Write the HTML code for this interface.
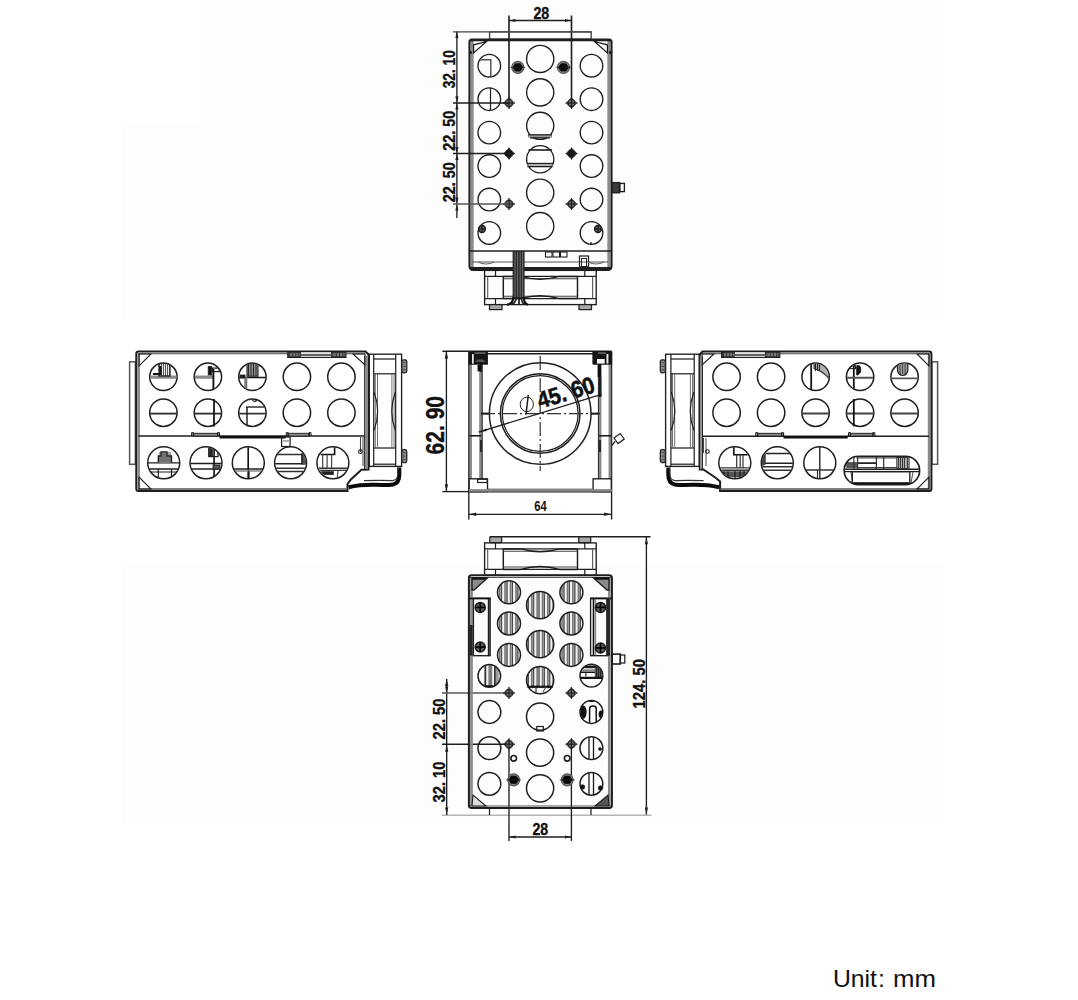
<!DOCTYPE html>
<html><head><meta charset="utf-8"><style>
html,body{margin:0;padding:0;background:#fff;}
body{width:1078px;height:1000px;overflow:hidden;position:relative;}
svg{position:absolute;left:0;top:0;}
</style></head><body>
<svg width="1078" height="1000" viewBox="0 0 1078 1000">
<rect x="200" y="0" width="744" height="122" fill="#fdfdfd"/>
<rect x="122" y="122" width="822" height="198" fill="#fdfdfd"/>
<rect x="122" y="566" width="822" height="258" fill="#fdfdfd"/>
<line x1="509" y1="15.5" x2="509" y2="103" stroke="#1e1e1e" stroke-width="1.62" />
<line x1="571.5" y1="15.5" x2="571.5" y2="103" stroke="#1e1e1e" stroke-width="1.62" />
<line x1="509" y1="20.5" x2="571.5" y2="20.5" stroke="#1e1e1e" stroke-width="1.35" />
<path d="M509.50,20.50 L515.50,18.90 L515.50,22.10 Z" fill="#1e1e1e"/>
<path d="M571.00,20.50 L565.00,22.10 L565.00,18.90 Z" fill="#1e1e1e"/>
<text transform="translate(541.3,18.9) rotate(0) scale(0.86,1)" font-family="Liberation Sans" font-size="16.5" font-weight="bold" text-anchor="middle" fill="#111" stroke="#111" stroke-width="0.35">28</text>
<line x1="453" y1="31.9" x2="591.5" y2="31.9" stroke="#444" stroke-width="1.42" />
<rect x="489.6" y="31.9" width="101.6" height="7.3" stroke="#4a4a4a" stroke-width="1.42" fill="none" />
<path d="M469.5,42 L469.5,266 Q469.5,270 473.5,270 L607.5,270 Q611.5,270 611.5,266 L611.5,42 Q611.5,39.5 609,39.5 L472,39.5 Q469.5,39.5 469.5,42 Z" stroke="#1e1e1e" stroke-width="2.16" fill="none" />
<line x1="472.3" y1="41" x2="472.3" y2="268" stroke="#8a8a8a" stroke-width="2.70" />
<line x1="608.7" y1="41" x2="608.7" y2="268" stroke="#8a8a8a" stroke-width="2.70" />
<line x1="470" y1="40.6" x2="611" y2="40.6" stroke="#1e1e1e" stroke-width="1.35" />
<path d="M473.6,53 L473.6,44.8 L481.5,42.8 L487.4,40.8 Z" stroke="#1e1e1e" stroke-width="1.22" fill="#fff" />
<path d="M607.4,53 L607.4,44.8 L599.5,42.8 L593.6,40.8 Z" stroke="#1e1e1e" stroke-width="1.22" fill="#fff" />
<circle cx="470.6" cy="52.5" r="1.2" stroke="#1e1e1e" stroke-width="0.68" fill="#111" />
<circle cx="610.4" cy="52.5" r="1.2" stroke="#1e1e1e" stroke-width="0.68" fill="#111" />
<line x1="469.5" y1="251" x2="611.5" y2="251" stroke="#1e1e1e" stroke-width="1.62" />
<line x1="472" y1="262" x2="608" y2="262" stroke="#555" stroke-width="1.08" />
<line x1="470" y1="268" x2="611" y2="268" stroke="#1e1e1e" stroke-width="1.89" />
<circle cx="489.3" cy="65.7" r="11.3" stroke="#1e1e1e" stroke-width="1.35" fill="none" />
<circle cx="591.5" cy="65.7" r="11.3" stroke="#1e1e1e" stroke-width="1.35" fill="none" />
<circle cx="540.2" cy="58.9" r="13.6" stroke="#1e1e1e" stroke-width="1.35" fill="none" />
<circle cx="489.3" cy="99.15" r="11.3" stroke="#1e1e1e" stroke-width="1.35" fill="none" />
<circle cx="591.5" cy="99.15" r="11.3" stroke="#1e1e1e" stroke-width="1.35" fill="none" />
<circle cx="540.2" cy="92.35" r="13.6" stroke="#1e1e1e" stroke-width="1.35" fill="none" />
<circle cx="489.3" cy="132.60000000000002" r="11.3" stroke="#1e1e1e" stroke-width="1.35" fill="none" />
<circle cx="591.5" cy="132.60000000000002" r="11.3" stroke="#1e1e1e" stroke-width="1.35" fill="none" />
<circle cx="540.2" cy="125.80000000000001" r="13.6" stroke="#1e1e1e" stroke-width="1.35" fill="none" />
<circle cx="489.3" cy="166.05" r="11.3" stroke="#1e1e1e" stroke-width="1.35" fill="none" />
<circle cx="591.5" cy="166.05" r="11.3" stroke="#1e1e1e" stroke-width="1.35" fill="none" />
<circle cx="540.2" cy="159.25" r="13.6" stroke="#1e1e1e" stroke-width="1.35" fill="none" />
<circle cx="489.3" cy="199.5" r="11.3" stroke="#1e1e1e" stroke-width="1.35" fill="none" />
<circle cx="591.5" cy="199.5" r="11.3" stroke="#1e1e1e" stroke-width="1.35" fill="none" />
<circle cx="540.2" cy="192.70000000000002" r="13.6" stroke="#1e1e1e" stroke-width="1.35" fill="none" />
<circle cx="489.3" cy="232.95" r="11.3" stroke="#1e1e1e" stroke-width="1.35" fill="none" />
<circle cx="591.5" cy="232.95" r="11.3" stroke="#1e1e1e" stroke-width="1.35" fill="none" />
<circle cx="540.2" cy="226.15" r="13.6" stroke="#1e1e1e" stroke-width="1.35" fill="none" />
<path d="M479.3,59.8 L490.8,59.8 L490.8,76.8" stroke="#555" stroke-width="1.49" fill="none" />
<line x1="490.5" y1="88" x2="490.5" y2="110" stroke="#1e1e1e" stroke-width="1.22" />
<line x1="528" y1="136.2" x2="552" y2="136.2" stroke="#999" stroke-width="2.97" />
<line x1="528" y1="134.8" x2="552" y2="134.8" stroke="#1e1e1e" stroke-width="1.22" />
<line x1="530" y1="137.9" x2="550" y2="137.9" stroke="#1e1e1e" stroke-width="1.35" />
<line x1="528.5" y1="150" x2="552" y2="150" stroke="#1e1e1e" stroke-width="1.62" />
<line x1="527" y1="163.5" x2="553" y2="163.5" stroke="#1e1e1e" stroke-width="1.35" />
<line x1="527" y1="165" x2="553" y2="165" stroke="#999" stroke-width="1.35" />
<line x1="527.5" y1="166.6" x2="552.5" y2="166.6" stroke="#1e1e1e" stroke-width="1.35" />
<circle cx="482" cy="229" r="3.4" stroke="#1e1e1e" stroke-width="1.49" fill="#666" />
<line x1="478.6" y1="229" x2="485.4" y2="229" stroke="#111" stroke-width="1.08" />
<line x1="482" y1="225.6" x2="482" y2="232.4" stroke="#111" stroke-width="1.08" />
<circle cx="598" cy="229" r="3.4" stroke="#1e1e1e" stroke-width="1.49" fill="#666" />
<line x1="594.6" y1="229" x2="601.4" y2="229" stroke="#111" stroke-width="1.08" />
<line x1="598" y1="225.6" x2="598" y2="232.4" stroke="#111" stroke-width="1.08" />
<line x1="591" y1="242" x2="591" y2="245" stroke="#1e1e1e" stroke-width="1.35" />
<circle cx="517.8" cy="67.4" r="6.0" stroke="#555" stroke-width="1.22" fill="#8a8a8a" />
<polygon points="522.80,67.40 520.30,71.12 515.30,71.12 512.80,67.40 515.30,63.68 520.30,63.68" fill="#080808" stroke="#111" stroke-width="0.8"/>
<line x1="510.29999999999995" y1="67.4" x2="525.3" y2="67.4" stroke="#222" stroke-width="0.68" />
<circle cx="563.5" cy="67.4" r="6.0" stroke="#555" stroke-width="1.22" fill="#8a8a8a" />
<polygon points="568.50,67.40 566.00,71.12 561.00,71.12 558.50,67.40 561.00,63.68 566.00,63.68" fill="#080808" stroke="#111" stroke-width="0.8"/>
<line x1="556.0" y1="67.4" x2="571.0" y2="67.4" stroke="#222" stroke-width="0.68" />
<circle cx="509" cy="103" r="3.6" stroke="#1e1e1e" stroke-width="1.35" fill="#6a6a6a" />
<path d="M503.5,103 L509,97.5 L514.5,103 L509,108.5 Z" stroke="#555" stroke-width="0.81" fill="none" />
<line x1="509" y1="97" x2="509" y2="109" stroke="#1e1e1e" stroke-width="1.08" />
<line x1="503" y1="103" x2="515" y2="103" stroke="#1e1e1e" stroke-width="1.08" />
<circle cx="571.5" cy="103" r="3.6" stroke="#1e1e1e" stroke-width="1.35" fill="#6a6a6a" />
<path d="M566.0,103 L571.5,97.5 L577.0,103 L571.5,108.5 Z" stroke="#555" stroke-width="0.81" fill="none" />
<line x1="571.5" y1="97" x2="571.5" y2="109" stroke="#1e1e1e" stroke-width="1.08" />
<line x1="565.5" y1="103" x2="577.5" y2="103" stroke="#1e1e1e" stroke-width="1.08" />
<path d="M504,153.5 L509,148.5 L514,153.5 L509,158.5 Z" stroke="#111" stroke-width="0.81" fill="#222" />
<circle cx="509" cy="153.5" r="3.6" stroke="#1e1e1e" stroke-width="1.35" fill="#111" />
<path d="M503.5,153.5 L509,148.0 L514.5,153.5 L509,159.0 Z" stroke="#555" stroke-width="0.81" fill="none" />
<line x1="509" y1="147.5" x2="509" y2="159.5" stroke="#1e1e1e" stroke-width="1.08" />
<line x1="503" y1="153.5" x2="515" y2="153.5" stroke="#1e1e1e" stroke-width="1.08" />
<path d="M566.5,153.5 L571.5,148.5 L576.5,153.5 L571.5,158.5 Z" stroke="#111" stroke-width="0.81" fill="#222" />
<circle cx="571.5" cy="153.5" r="3.6" stroke="#1e1e1e" stroke-width="1.35" fill="#111" />
<path d="M566.0,153.5 L571.5,148.0 L577.0,153.5 L571.5,159.0 Z" stroke="#555" stroke-width="0.81" fill="none" />
<line x1="571.5" y1="147.5" x2="571.5" y2="159.5" stroke="#1e1e1e" stroke-width="1.08" />
<line x1="565.5" y1="153.5" x2="577.5" y2="153.5" stroke="#1e1e1e" stroke-width="1.08" />
<circle cx="509" cy="204" r="3.6" stroke="#1e1e1e" stroke-width="1.35" fill="#6a6a6a" />
<path d="M503.5,204 L509,198.5 L514.5,204 L509,209.5 Z" stroke="#555" stroke-width="0.81" fill="none" />
<line x1="509" y1="198" x2="509" y2="210" stroke="#1e1e1e" stroke-width="1.08" />
<line x1="503" y1="204" x2="515" y2="204" stroke="#1e1e1e" stroke-width="1.08" />
<circle cx="571.5" cy="204" r="3.6" stroke="#1e1e1e" stroke-width="1.35" fill="#6a6a6a" />
<path d="M566.0,204 L571.5,198.5 L577.0,204 L571.5,209.5 Z" stroke="#555" stroke-width="0.81" fill="none" />
<line x1="571.5" y1="198" x2="571.5" y2="210" stroke="#1e1e1e" stroke-width="1.08" />
<line x1="565.5" y1="204" x2="577.5" y2="204" stroke="#1e1e1e" stroke-width="1.08" />
<line x1="456.9" y1="31.7" x2="456.9" y2="218" stroke="#1e1e1e" stroke-width="1.35" />
<line x1="453" y1="103" x2="509" y2="103" stroke="#1e1e1e" stroke-width="1.49" />
<line x1="453" y1="153.5" x2="509" y2="153.5" stroke="#1e1e1e" stroke-width="1.49" />
<line x1="453" y1="204" x2="509" y2="204" stroke="#555" stroke-width="1.49" />
<path d="M456.90,32.00 L458.50,38.00 L455.30,38.00 Z" fill="#1e1e1e"/>
<path d="M456.90,102.50 L455.30,96.50 L458.50,96.50 Z" fill="#1e1e1e"/>
<path d="M456.90,103.50 L458.50,109.50 L455.30,109.50 Z" fill="#1e1e1e"/>
<path d="M456.90,153.00 L455.30,147.00 L458.50,147.00 Z" fill="#1e1e1e"/>
<path d="M456.90,154.00 L458.50,160.00 L455.30,160.00 Z" fill="#1e1e1e"/>
<path d="M456.90,203.50 L455.30,197.50 L458.50,197.50 Z" fill="#1e1e1e"/>
<path d="M456.90,204.50 L458.50,210.50 L455.30,210.50 Z" fill="#1e1e1e"/>
<text transform="translate(454.6,69.2) rotate(-90) scale(0.86,1)" font-family="Liberation Sans" font-size="16" font-weight="bold" text-anchor="middle" fill="#111" stroke="#111" stroke-width="0.35">32. 10</text>
<text transform="translate(454.6,130.8) rotate(-90) scale(0.9,1)" font-family="Liberation Sans" font-size="16" font-weight="bold" text-anchor="middle" fill="#111" stroke="#111" stroke-width="0.35">22. 50</text>
<text transform="translate(454.6,182.3) rotate(-90) scale(0.9,1)" font-family="Liberation Sans" font-size="16" font-weight="bold" text-anchor="middle" fill="#111" stroke="#111" stroke-width="0.35">22. 50</text>
<rect x="612.2" y="182.6" width="7.4" height="10.2" stroke="#1e1e1e" stroke-width="1.35" fill="#3a3a3a" />
<rect x="619.8" y="183.4" width="4.6" height="8.2" stroke="#1e1e1e" stroke-width="1.35" fill="none" />
<rect x="545.5" y="252" width="6.5" height="5" stroke="#1e1e1e" stroke-width="1.08" fill="none" />
<rect x="553" y="252" width="6.5" height="5" stroke="#1e1e1e" stroke-width="1.08" fill="none" />
<rect x="560.5" y="252" width="6.5" height="5" stroke="#1e1e1e" stroke-width="1.08" fill="none" />
<rect x="579.5" y="256" width="9" height="11" stroke="#1e1e1e" stroke-width="1.22" fill="none" />
<rect x="581.5" y="258.5" width="5" height="8" stroke="#1e1e1e" stroke-width="0.94" fill="none" />
<path d="M478,262 Q486,266 494,262" stroke="#666" stroke-width="1.08" fill="none" />
<path d="M588,262 Q596,266 604,262" stroke="#666" stroke-width="1.08" fill="none" />
<rect x="484.6" y="270.4" width="111.60000000000002" height="34.200000000000045" stroke="#1e1e1e" stroke-width="1.35" fill="none" />
<line x1="484.6" y1="276.4" x2="596.2" y2="276.4" stroke="#1e1e1e" stroke-width="1.22" />
<line x1="484.6" y1="298.6" x2="596.2" y2="298.6" stroke="#1e1e1e" stroke-width="1.22" />
<line x1="495.5" y1="270.4" x2="495.5" y2="276.4" stroke="#1e1e1e" stroke-width="1.22" />
<line x1="495.5" y1="298.6" x2="495.5" y2="304.6" stroke="#1e1e1e" stroke-width="1.22" />
<line x1="584.8" y1="270.4" x2="584.8" y2="276.4" stroke="#1e1e1e" stroke-width="1.22" />
<line x1="584.8" y1="298.6" x2="584.8" y2="304.6" stroke="#1e1e1e" stroke-width="1.22" />
<line x1="487.7" y1="276.4" x2="487.7" y2="298.6" stroke="#555" stroke-width="1.08" />
<line x1="592.6" y1="276.4" x2="592.6" y2="298.6" stroke="#555" stroke-width="1.08" />
<line x1="503.3" y1="276.4" x2="503.3" y2="298.6" stroke="#1e1e1e" stroke-width="1.49" />
<line x1="577.5" y1="276.4" x2="577.5" y2="298.6" stroke="#1e1e1e" stroke-width="1.49" />
<line x1="503.3" y1="278.79999999999995" x2="577.5" y2="278.79999999999995" stroke="#444" stroke-width="1.08" />
<line x1="503.3" y1="296.20000000000005" x2="577.5" y2="296.20000000000005" stroke="#444" stroke-width="1.08" />
<path d="M503.3,276.4 L520.8,276.4 Q540,282.0 559.5,276.4 L577.5,276.4" stroke="#1e1e1e" stroke-width="1.49" fill="none" />
<path d="M503.3,298.6 L520.8,298.6 Q540,293.0 559.5,298.6 L577.5,298.6" stroke="#1e1e1e" stroke-width="1.49" fill="none" />
<rect x="512.6" y="251" width="12" height="47" fill="#2a2a2a"/>
<line x1="515.0" y1="252" x2="515.0" y2="297" stroke="#9a9a9a" stroke-width="0.61" />
<line x1="517.6" y1="252" x2="517.6" y2="297" stroke="#9a9a9a" stroke-width="0.61" />
<line x1="520.2" y1="252" x2="520.2" y2="297" stroke="#9a9a9a" stroke-width="0.61" />
<line x1="522.6" y1="252" x2="522.6" y2="297" stroke="#9a9a9a" stroke-width="0.61" />
<path d="M513.4,297 Q513.2,304 507,304.6" stroke="#111" stroke-width="2.16" fill="none" />
<path d="M516.2,297 Q516,303.5 511,304.2" stroke="#222" stroke-width="1.76" fill="none" />
<path d="M519,297 L519,304" stroke="#222" stroke-width="1.76" fill="none" />
<path d="M521.4,297 Q521.5,303.5 525,304.2" stroke="#222" stroke-width="1.76" fill="none" />
<path d="M523.9,297 Q524,304 528,304.6" stroke="#111" stroke-width="2.16" fill="none" />
<rect x="489.5" y="304.6" width="12.5" height="5" stroke="#1e1e1e" stroke-width="1.22" fill="#a8a8a8" />
<rect x="579" y="304.6" width="12.5" height="5" stroke="#1e1e1e" stroke-width="1.22" fill="#a8a8a8" />
<rect x="129.6" y="361.8" width="5.8" height="102.5" stroke="#555" stroke-width="1.49" fill="none" />
<path d="M347.5,491 L138.5,491 Q136.3,491 136.3,488.8 L136.3,353.8 Q136.3,351.6 138.5,351.6 L365.5,351.6 L368.5,354.5 L368.5,469.5 L361.4,469.7 L350.6,479.8 L347.5,484 Z" stroke="#1e1e1e" stroke-width="2.03" fill="none" />
<line x1="138.7" y1="353.5" x2="138.7" y2="489" stroke="#8a8a8a" stroke-width="2.43" />
<line x1="138" y1="353.7" x2="365" y2="353.7" stroke="#444" stroke-width="1.08" />
<line x1="138" y1="489" x2="347.5" y2="489" stroke="#555" stroke-width="1.35" />
<path d="M139,366 L139,354 L151,354 Z" stroke="#1e1e1e" stroke-width="1.08" fill="none" />
<path d="M139,477 L139,489 L151,489 Z" stroke="#1e1e1e" stroke-width="1.08" fill="none" />
<path d="M353,354 L365,354 L365,365 Z" stroke="#1e1e1e" stroke-width="1.08" fill="none" />
<line x1="364.8" y1="356" x2="364.8" y2="469" stroke="#1e1e1e" stroke-width="1.35" />
<line x1="366.6" y1="356" x2="366.6" y2="469" stroke="#8a8a8a" stroke-width="1.89" />
<rect x="287.8" y="351.6" width="58.099999999999966" height="5.8" stroke="#1e1e1e" stroke-width="1.22" fill="#fff" />
<rect x="288.6" y="352.4" width="12" height="4.4" stroke="#1e1e1e" stroke-width="0.81" fill="#777" />
<rect x="331.4" y="352.4" width="13.5" height="4.4" stroke="#1e1e1e" stroke-width="0.81" fill="#777" />
<line x1="300.8" y1="354.9" x2="331.4" y2="354.9" stroke="#666" stroke-width="2.16" />
<line x1="289.8" y1="352.4" x2="289.8" y2="356.8" stroke="#222" stroke-width="0.81" />
<line x1="332.9" y1="352.4" x2="332.9" y2="356.8" stroke="#222" stroke-width="0.81" />
<line x1="292.8" y1="352.4" x2="292.8" y2="356.8" stroke="#222" stroke-width="0.81" />
<line x1="336.2" y1="352.4" x2="336.2" y2="356.8" stroke="#222" stroke-width="0.81" />
<line x1="295.8" y1="352.4" x2="295.8" y2="356.8" stroke="#222" stroke-width="0.81" />
<line x1="339.5" y1="352.4" x2="339.5" y2="356.8" stroke="#222" stroke-width="0.81" />
<line x1="298.8" y1="352.4" x2="298.8" y2="356.8" stroke="#222" stroke-width="0.81" />
<line x1="342.79999999999995" y1="352.4" x2="342.79999999999995" y2="356.8" stroke="#222" stroke-width="0.81" />
<line x1="138.5" y1="436.1" x2="364.8" y2="436.1" stroke="#1e1e1e" stroke-width="1.49" />
<line x1="219.5" y1="437.2" x2="285.5" y2="437.2" stroke="#111" stroke-width="2.43" />
<rect x="193.1" y="433.3" width="24.900000000000006" height="2.8" stroke="#1e1e1e" stroke-width="0.94" fill="#8a8a8a" />
<path d="M191.6,436.1 L191.6,433 Q192.6,432 193.6,433 L193.6,436.1" stroke="#1e1e1e" stroke-width="1.08" fill="none" />
<path d="M217.5,436.1 L217.5,433 Q218.5,432 219.5,433 L219.5,436.1" stroke="#1e1e1e" stroke-width="1.08" fill="none" />
<rect x="287.8" y="433.3" width="21.69999999999999" height="2.8" stroke="#1e1e1e" stroke-width="0.94" fill="#8a8a8a" />
<path d="M286.3,436.1 L286.3,433 Q287.3,432 288.3,433 L288.3,436.1" stroke="#1e1e1e" stroke-width="1.08" fill="none" />
<path d="M309,436.1 L309,433 Q310,432 311,433 L311,436.1" stroke="#1e1e1e" stroke-width="1.08" fill="none" />
<rect x="281.6" y="437" width="8.5" height="9.5" stroke="#1e1e1e" stroke-width="1.22" fill="none" />
<line x1="283" y1="441" x2="289" y2="441" stroke="#555" stroke-width="0.94" />
<circle cx="163.4" cy="376.8" r="13.7" stroke="#1e1e1e" stroke-width="1.49" fill="none" />
<circle cx="163.4" cy="412.7" r="13.7" stroke="#1e1e1e" stroke-width="1.49" fill="none" />
<circle cx="163.7" cy="462.8" r="16" stroke="#1e1e1e" stroke-width="1.49" fill="none" />
<circle cx="207.9" cy="376.8" r="13.7" stroke="#1e1e1e" stroke-width="1.49" fill="none" />
<circle cx="207.9" cy="412.7" r="13.7" stroke="#1e1e1e" stroke-width="1.49" fill="none" />
<circle cx="206.0" cy="462.8" r="16" stroke="#1e1e1e" stroke-width="1.49" fill="none" />
<circle cx="252.4" cy="376.8" r="13.7" stroke="#1e1e1e" stroke-width="1.49" fill="none" />
<circle cx="252.4" cy="412.7" r="13.7" stroke="#1e1e1e" stroke-width="1.49" fill="none" />
<circle cx="248.29999999999998" cy="462.8" r="16" stroke="#1e1e1e" stroke-width="1.49" fill="none" />
<circle cx="296.9" cy="376.8" r="13.7" stroke="#1e1e1e" stroke-width="1.49" fill="none" />
<circle cx="296.9" cy="412.7" r="13.7" stroke="#1e1e1e" stroke-width="1.49" fill="none" />
<circle cx="290.59999999999997" cy="462.8" r="16" stroke="#1e1e1e" stroke-width="1.49" fill="none" />
<circle cx="341.4" cy="376.8" r="13.7" stroke="#1e1e1e" stroke-width="1.49" fill="none" />
<circle cx="341.4" cy="412.7" r="13.7" stroke="#1e1e1e" stroke-width="1.49" fill="none" />
<circle cx="332.9" cy="462.8" r="16" stroke="#1e1e1e" stroke-width="1.49" fill="none" />
<clipPath id="cg1"><circle cx="163.4" cy="376.8" r="13.2"/></clipPath>
<g clip-path="url(#cg1)">
<line x1="145" y1="377.2" x2="182" y2="377.2" stroke="#8a8a8a" stroke-width="3.24" />
<line x1="159.5" y1="363" x2="159.5" y2="376" stroke="#555" stroke-width="1.08" />
<line x1="161.5" y1="363" x2="161.5" y2="376" stroke="#555" stroke-width="1.08" />
<line x1="163.5" y1="363" x2="163.5" y2="376" stroke="#555" stroke-width="1.08" />
<line x1="165.5" y1="363" x2="165.5" y2="376" stroke="#555" stroke-width="1.08" />
<line x1="167.5" y1="363" x2="167.5" y2="376" stroke="#555" stroke-width="1.08" />
<line x1="169.5" y1="363" x2="169.5" y2="376" stroke="#555" stroke-width="1.08" />
<rect x="159" y="363.5" width="11" height="12.5" stroke="#1e1e1e" stroke-width="1.22" fill="none" />
<path d="M153,374 L160.5,374 L160.5,366" stroke="#111" stroke-width="2.16" fill="none" />
</g>
<clipPath id="cg2"><circle cx="207.9" cy="376.8" r="13.2"/></clipPath>
<g clip-path="url(#cg2)">
<line x1="190" y1="377.2" x2="213" y2="377.2" stroke="#8a8a8a" stroke-width="3.24" />
<line x1="213.4" y1="369" x2="213.4" y2="391" stroke="#111" stroke-width="1.89" />
<rect x="208.2" y="366.4" width="3.5" height="8.6" stroke="#1e1e1e" stroke-width="0.81" fill="#111" />
<rect x="212.3" y="368.1" width="7" height="3.5" stroke="#1e1e1e" stroke-width="1.22" fill="none" />
</g>
<clipPath id="cg3"><circle cx="252.4" cy="376.8" r="13.2"/></clipPath>
<g clip-path="url(#cg3)">
<line x1="238" y1="377.4" x2="267" y2="377.4" stroke="#111" stroke-width="1.49" />
<rect x="247" y="363.5" width="11" height="12.7" stroke="#1e1e1e" stroke-width="1.08" fill="#9a9a9a" />
<line x1="248.5" y1="363" x2="248.5" y2="376" stroke="#222" stroke-width="1.08" />
<line x1="251" y1="363" x2="251" y2="376" stroke="#222" stroke-width="1.08" />
<line x1="253.5" y1="363" x2="253.5" y2="376" stroke="#222" stroke-width="1.08" />
<line x1="256" y1="363" x2="256" y2="376" stroke="#222" stroke-width="1.08" />
<line x1="245.8" y1="377" x2="245.8" y2="391" stroke="#777" stroke-width="2.97" />
<rect x="240" y="375" width="5" height="3" stroke="#1e1e1e" stroke-width="0.81" fill="#222" />
</g>
<line x1="149.73" y1="413.6" x2="177.07" y2="413.6" stroke="#333" stroke-width="1.89" />
<line x1="194.23" y1="413.6" x2="221.57" y2="413.6" stroke="#333" stroke-width="1.89" />
<line x1="214" y1="399" x2="214" y2="426.4" stroke="#111" stroke-width="1.76" />
<clipPath id="cg4"><circle cx="252.4" cy="412.7" r="13.2"/></clipPath>
<g clip-path="url(#cg4)">
<line x1="238" y1="413.6" x2="267" y2="413.6" stroke="#333" stroke-width="1.76" />
<line x1="246" y1="407" x2="267" y2="407" stroke="#333" stroke-width="1.49" />
<line x1="247" y1="407" x2="247" y2="427" stroke="#222" stroke-width="1.49" />
<path d="M252,399.5 Q254.5,403 257,400" stroke="#1e1e1e" stroke-width="1.22" fill="none" />
</g>
<clipPath id="cg5"><circle cx="163.7" cy="462.8" r="15.5"/></clipPath>
<g clip-path="url(#cg5)">
<line x1="147" y1="462.8" x2="181" y2="462.8" stroke="#1e1e1e" stroke-width="1.35" />
<line x1="147" y1="469" x2="181" y2="469" stroke="#1e1e1e" stroke-width="1.49" />
<line x1="147" y1="472" x2="181" y2="472" stroke="#1e1e1e" stroke-width="1.22" />
<path d="M158.3,462.8 L158.3,456 L161,456 L161,451.9 L167,451.9 L167,456 L171.5,456 L171.5,462.8" stroke="#1e1e1e" stroke-width="1.35" fill="#aaa" />
<line x1="160" y1="452" x2="160" y2="462.5" stroke="#333" stroke-width="0.94" />
<line x1="162" y1="452" x2="162" y2="462.5" stroke="#333" stroke-width="0.94" />
<line x1="164" y1="452" x2="164" y2="462.5" stroke="#333" stroke-width="0.94" />
<line x1="166" y1="452" x2="166" y2="462.5" stroke="#333" stroke-width="0.94" />
<line x1="168" y1="452" x2="168" y2="462.5" stroke="#333" stroke-width="0.94" />
<line x1="170" y1="452" x2="170" y2="462.5" stroke="#333" stroke-width="0.94" />
<line x1="158.3" y1="469" x2="158.3" y2="480" stroke="#1e1e1e" stroke-width="1.22" />
<line x1="171.5" y1="469" x2="171.5" y2="480" stroke="#1e1e1e" stroke-width="1.22" />
</g>
<clipPath id="cg6"><circle cx="206" cy="462.8" r="15.5"/></clipPath>
<g clip-path="url(#cg6)">
<line x1="190" y1="463.5" x2="222" y2="463.5" stroke="#1e1e1e" stroke-width="1.49" />
<line x1="190" y1="469" x2="222" y2="469" stroke="#1e1e1e" stroke-width="1.49" />
<line x1="214.1" y1="448" x2="214.1" y2="479" stroke="#111" stroke-width="1.62" />
<rect x="208.7" y="448" width="9.3" height="8.6" stroke="#1e1e1e" stroke-width="1.22" fill="none" />
<rect x="209.5" y="449" width="3" height="7" stroke="#1e1e1e" stroke-width="0.68" fill="#222" />
<rect x="213" y="465" width="7" height="4" stroke="#1e1e1e" stroke-width="0.81" fill="#555" />
</g>
<clipPath id="cg7"><circle cx="248.3" cy="462.8" r="15.5"/></clipPath>
<g clip-path="url(#cg7)">
<line x1="248.2" y1="447" x2="248.2" y2="479" stroke="#111" stroke-width="1.62" />
<line x1="232" y1="469" x2="265" y2="469" stroke="#1e1e1e" stroke-width="1.49" />
<line x1="232" y1="471" x2="265" y2="471" stroke="#888" stroke-width="1.35" />
<line x1="249" y1="471" x2="249" y2="479" stroke="#1e1e1e" stroke-width="1.22" />
</g>
<clipPath id="cg8"><circle cx="290.6" cy="462.8" r="15.5"/></clipPath>
<g clip-path="url(#cg8)">
<line x1="274" y1="454.5" x2="307" y2="454.5" stroke="#333" stroke-width="1.49" />
<line x1="274" y1="463.7" x2="307" y2="463.7" stroke="#222" stroke-width="1.49" />
<line x1="274" y1="468.2" x2="307" y2="468.2" stroke="#333" stroke-width="1.49" />
<line x1="274" y1="471.5" x2="307" y2="471.5" stroke="#333" stroke-width="1.49" />
<rect x="301.9" y="453.4" width="4.5" height="11.1" fill="#555"/>
<line x1="301.9" y1="453.4" x2="301.9" y2="464.5" stroke="#111" stroke-width="1.35" />
</g>
<clipPath id="cg9"><circle cx="333.5" cy="462.8" r="15.5"/></clipPath>
<g clip-path="url(#cg9)">
<path d="M320.5,454.5 L334.6,454.5 L334.6,447" stroke="#111" stroke-width="1.62" fill="none" />
<line x1="322.7" y1="454.8" x2="322.7" y2="468.2" stroke="#444" stroke-width="1.22" />
<line x1="327.1" y1="454.8" x2="327.1" y2="468.2" stroke="#444" stroke-width="1.22" />
<line x1="331.6" y1="454.8" x2="331.6" y2="468.2" stroke="#444" stroke-width="1.22" />
<line x1="317" y1="468.2" x2="350" y2="468.2" stroke="#333" stroke-width="1.35" />
<line x1="317" y1="470.4" x2="350" y2="470.4" stroke="#333" stroke-width="1.35" />
<rect x="321.2" y="471.2" width="12.6" height="3.7" fill="#222"/>
<line x1="338" y1="471" x2="337" y2="480" stroke="#444" stroke-width="1.08" />
</g>
<rect x="369.3" y="354.2" width="32.30000000000001" height="112.19999999999999" stroke="#1e1e1e" stroke-width="1.35" fill="none" />
<line x1="373.7" y1="354.2" x2="373.7" y2="466.4" stroke="#1e1e1e" stroke-width="1.22" />
<line x1="395.70000000000005" y1="354.2" x2="395.70000000000005" y2="466.4" stroke="#1e1e1e" stroke-width="1.22" />
<line x1="373.7" y1="359" x2="395.70000000000005" y2="359" stroke="#1e1e1e" stroke-width="1.22" />
<line x1="373.7" y1="373.8" x2="395.70000000000005" y2="373.8" stroke="#1e1e1e" stroke-width="1.22" />
<line x1="373.7" y1="448" x2="395.70000000000005" y2="448" stroke="#1e1e1e" stroke-width="1.22" />
<line x1="373.7" y1="464.2" x2="395.70000000000005" y2="464.2" stroke="#1e1e1e" stroke-width="1.22" />
<line x1="375.3" y1="373.8" x2="375.3" y2="448" stroke="#666" stroke-width="0.94" />
<line x1="377.5" y1="373.8" x2="377.5" y2="448" stroke="#666" stroke-width="0.94" />
<line x1="391.90000000000003" y1="373.8" x2="391.90000000000003" y2="448" stroke="#666" stroke-width="0.94" />
<line x1="394.1" y1="373.8" x2="394.1" y2="448" stroke="#666" stroke-width="0.94" />
<path d="M374.0,392 Q381.3,411.2 374.0,430.4" stroke="#1e1e1e" stroke-width="1.22" fill="none" />
<path d="M395.40000000000003,392 Q388.1,411.2 395.40000000000003,430.4" stroke="#1e1e1e" stroke-width="1.22" fill="none" />
<path d="M374.0,373.8 L374.0,392" stroke="#444" stroke-width="1.08" fill="none" />
<rect x="401.8" y="359.8" width="5.0" height="13" stroke="#1e1e1e" stroke-width="1.22" fill="#8a8a8a" rx="1.8"/>
<line x1="403.0" y1="362.8" x2="405.6" y2="362.8" stroke="#333" stroke-width="0.81" />
<line x1="403.0" y1="366.3" x2="405.6" y2="366.3" stroke="#333" stroke-width="0.81" />
<line x1="403.0" y1="369.8" x2="405.6" y2="369.8" stroke="#333" stroke-width="0.81" />
<rect x="401.8" y="449.6" width="5.0" height="13" stroke="#1e1e1e" stroke-width="1.22" fill="#8a8a8a" rx="1.8"/>
<line x1="403.0" y1="452.6" x2="405.6" y2="452.6" stroke="#333" stroke-width="0.81" />
<line x1="403.0" y1="456.1" x2="405.6" y2="456.1" stroke="#333" stroke-width="0.81" />
<line x1="403.0" y1="459.6" x2="405.6" y2="459.6" stroke="#333" stroke-width="0.81" />
<path d="M348.5,487.2 Q360,484.6 375,484.8 Q388,485.2 393,484.4 Q399.2,483.2 399.3,475 L399.3,467.5" stroke="#0a0a0a" stroke-width="4.05" fill="none" />
<path d="M364,480.6 Q380,480.1 392.5,480.6 Q397.4,480.2 397.8,474 L397.8,467.5" stroke="#333" stroke-width="1.08" fill="none" />
<line x1="360.5" y1="437" x2="360.5" y2="452" stroke="#444" stroke-width="1.08" />
<line x1="363" y1="437" x2="363" y2="466" stroke="#555" stroke-width="1.08" />
<circle cx="360.4" cy="451.7" r="1.8" stroke="#1e1e1e" stroke-width="1.08" fill="none" />
<rect x="931.8" y="361.8" width="5.8" height="102.5" stroke="#555" stroke-width="1.49" fill="none" />
<path d="M720.1,491 L929.2,491 Q931.4,491 931.4,488.8 L931.4,353.8 Q931.4,351.6 929.2,351.6 L702.5,351.6 L699.8,354.5 L699.8,469.5 L703,469.2 L716,478 L720.1,481.4 Z" stroke="#1e1e1e" stroke-width="2.03" fill="none" />
<line x1="929" y1="353.5" x2="929" y2="489" stroke="#8a8a8a" stroke-width="2.43" />
<line x1="702" y1="353.7" x2="929.5" y2="353.7" stroke="#444" stroke-width="1.08" />
<line x1="720.1" y1="489" x2="929.5" y2="489" stroke="#555" stroke-width="1.35" />
<path d="M929,366 L929,354 L917,354 Z" stroke="#1e1e1e" stroke-width="1.08" fill="none" />
<path d="M929,477 L929,489 L917,489 Z" stroke="#1e1e1e" stroke-width="1.08" fill="none" />
<path d="M714,354 L702,354 L702,365 Z" stroke="#1e1e1e" stroke-width="1.08" fill="none" />
<line x1="702.3" y1="356" x2="702.3" y2="469" stroke="#1e1e1e" stroke-width="1.35" />
<line x1="700.8" y1="356" x2="700.8" y2="469" stroke="#8a8a8a" stroke-width="1.62" />
<rect x="721.6" y="351.6" width="58.19999999999993" height="5.8" stroke="#1e1e1e" stroke-width="1.22" fill="#fff" />
<rect x="722.4" y="352.4" width="12" height="4.4" stroke="#1e1e1e" stroke-width="0.81" fill="#777" />
<rect x="765.3" y="352.4" width="13.5" height="4.4" stroke="#1e1e1e" stroke-width="0.81" fill="#777" />
<line x1="734.6" y1="354.9" x2="765.3" y2="354.9" stroke="#666" stroke-width="2.16" />
<line x1="723.6" y1="352.4" x2="723.6" y2="356.8" stroke="#222" stroke-width="0.81" />
<line x1="766.8" y1="352.4" x2="766.8" y2="356.8" stroke="#222" stroke-width="0.81" />
<line x1="726.6" y1="352.4" x2="726.6" y2="356.8" stroke="#222" stroke-width="0.81" />
<line x1="770.0999999999999" y1="352.4" x2="770.0999999999999" y2="356.8" stroke="#222" stroke-width="0.81" />
<line x1="729.6" y1="352.4" x2="729.6" y2="356.8" stroke="#222" stroke-width="0.81" />
<line x1="773.4" y1="352.4" x2="773.4" y2="356.8" stroke="#222" stroke-width="0.81" />
<line x1="732.6" y1="352.4" x2="732.6" y2="356.8" stroke="#222" stroke-width="0.81" />
<line x1="776.6999999999999" y1="352.4" x2="776.6999999999999" y2="356.8" stroke="#222" stroke-width="0.81" />
<line x1="702.3" y1="436.2" x2="929" y2="436.2" stroke="#1e1e1e" stroke-width="1.49" />
<line x1="783.6" y1="437.3" x2="847.7" y2="437.3" stroke="#111" stroke-width="2.43" />
<rect x="757.2" y="433.3" width="24.899999999999977" height="2.8" stroke="#1e1e1e" stroke-width="0.94" fill="#8a8a8a" />
<path d="M755.7,436.1 L755.7,433 Q756.7,432 757.7,433 L757.7,436.1" stroke="#1e1e1e" stroke-width="1.08" fill="none" />
<path d="M781.6,436.1 L781.6,433 Q782.6,432 783.6,433 L783.6,436.1" stroke="#1e1e1e" stroke-width="1.08" fill="none" />
<rect x="850.0" y="433.3" width="23.299999999999955" height="2.8" stroke="#1e1e1e" stroke-width="0.94" fill="#8a8a8a" />
<path d="M848.5,436.1 L848.5,433 Q849.5,432 850.5,433 L850.5,436.1" stroke="#1e1e1e" stroke-width="1.08" fill="none" />
<path d="M872.8,436.1 L872.8,433 Q873.8,432 874.8,433 L874.8,436.1" stroke="#1e1e1e" stroke-width="1.08" fill="none" />
<circle cx="726.6" cy="376.8" r="13.7" stroke="#1e1e1e" stroke-width="1.49" fill="none" />
<circle cx="726.6" cy="412.7" r="13.7" stroke="#1e1e1e" stroke-width="1.49" fill="none" />
<circle cx="771.1" cy="376.8" r="13.7" stroke="#1e1e1e" stroke-width="1.49" fill="none" />
<circle cx="771.1" cy="412.7" r="13.7" stroke="#1e1e1e" stroke-width="1.49" fill="none" />
<circle cx="815.6" cy="376.8" r="13.7" stroke="#1e1e1e" stroke-width="1.49" fill="none" />
<circle cx="815.6" cy="412.7" r="13.7" stroke="#1e1e1e" stroke-width="1.49" fill="none" />
<circle cx="860.1" cy="376.8" r="13.7" stroke="#1e1e1e" stroke-width="1.49" fill="none" />
<circle cx="860.1" cy="412.7" r="13.7" stroke="#1e1e1e" stroke-width="1.49" fill="none" />
<circle cx="904.6" cy="376.8" r="13.7" stroke="#1e1e1e" stroke-width="1.49" fill="none" />
<circle cx="904.6" cy="412.7" r="13.7" stroke="#1e1e1e" stroke-width="1.49" fill="none" />
<circle cx="734.8" cy="462.8" r="16" stroke="#1e1e1e" stroke-width="1.49" fill="none" />
<circle cx="777.3" cy="462.8" r="16" stroke="#1e1e1e" stroke-width="1.49" fill="none" />
<circle cx="819.8" cy="462.8" r="16" stroke="#1e1e1e" stroke-width="1.49" fill="none" />
<clipPath id="cg10"><circle cx="815.5" cy="376.8" r="13.2"/></clipPath>
<g clip-path="url(#cg10)">
<line x1="811.2" y1="362" x2="811.2" y2="392" stroke="#111" stroke-width="1.76" />
<path d="M814.1,362 L814.1,368.6 Q821,370 828.5,377.8 L831,362 Z" stroke="#333" stroke-width="1.22" fill="#b0b0b0" />
<line x1="815.5" y1="362" x2="815.5" y2="371" stroke="#222" stroke-width="1.08" />
<line x1="817.5" y1="362" x2="817.5" y2="371" stroke="#222" stroke-width="1.08" />
<line x1="819.5" y1="362" x2="819.5" y2="371" stroke="#222" stroke-width="1.08" />
</g>
<clipPath id="cg11"><circle cx="860" cy="376.8" r="13.2"/></clipPath>
<g clip-path="url(#cg11)">
<line x1="853.8" y1="365.7" x2="853.8" y2="389" stroke="#111" stroke-width="1.76" />
<line x1="846" y1="377.8" x2="874" y2="377.8" stroke="#555" stroke-width="1.89" />
<rect x="848.6" y="365.7" width="6.9" height="2.9" stroke="#1e1e1e" stroke-width="1.08" fill="none" />
<path d="M856.7,365.7 L859.5,365.7 Q861,367 860.7,372 L858,375 L856.7,375 Z" stroke="#111" stroke-width="0.81" fill="#111" />
</g>
<clipPath id="cg12"><circle cx="904.7" cy="376.8" r="13.2"/></clipPath>
<g clip-path="url(#cg12)">
<line x1="890" y1="378.4" x2="920" y2="378.4" stroke="#555" stroke-width="1.89" />
<path d="M897.5,362.5 L897.5,371 Q899,375.5 902.6,375.5 Q906.4,375.5 907.8,371 L907.8,362.5 Z" stroke="#222" stroke-width="1.22" fill="#a0a0a0" />
<line x1="900" y1="363" x2="900" y2="374" stroke="#444" stroke-width="1.08" />
<line x1="902.6" y1="363" x2="902.6" y2="374" stroke="#444" stroke-width="1.08" />
<line x1="905.2" y1="363" x2="905.2" y2="374" stroke="#444" stroke-width="1.08" />
</g>
<line x1="801.92" y1="413.5" x2="829.28" y2="413.5" stroke="#444" stroke-width="2.03" />
<line x1="846.42" y1="413.5" x2="873.78" y2="413.5" stroke="#444" stroke-width="2.03" />
<line x1="853.8" y1="399" x2="853.8" y2="426.4" stroke="#111" stroke-width="1.76" />
<line x1="890.92" y1="413.5" x2="918.28" y2="413.5" stroke="#444" stroke-width="2.03" />
<clipPath id="cg13"><circle cx="734.8" cy="462.8" r="15.5"/></clipPath>
<g clip-path="url(#cg13)">
<line x1="718" y1="467.9" x2="752" y2="467.9" stroke="#333" stroke-width="1.35" />
<line x1="718" y1="470.2" x2="752" y2="470.2" stroke="#333" stroke-width="1.35" />
<path d="M733.8,446 L733.8,454.7 L747.6,454.7" stroke="#111" stroke-width="1.62" fill="none" />
<line x1="736.7" y1="454.7" x2="736.7" y2="468" stroke="#333" stroke-width="1.22" />
<line x1="740.2" y1="454.7" x2="740.2" y2="468" stroke="#333" stroke-width="1.22" />
<line x1="743" y1="454.7" x2="743" y2="468" stroke="#333" stroke-width="1.22" />
<rect x="720" y="471.3" width="30" height="6" fill="#555"/>
<line x1="724" y1="471.3" x2="724" y2="478" stroke="#111" stroke-width="1.08" />
<line x1="728" y1="471.3" x2="728" y2="478" stroke="#111" stroke-width="1.08" />
<line x1="735" y1="471.3" x2="735" y2="478" stroke="#111" stroke-width="1.08" />
<line x1="740" y1="471.3" x2="740" y2="478" stroke="#111" stroke-width="1.08" />
<line x1="744" y1="471.3" x2="744" y2="478" stroke="#111" stroke-width="1.08" />
</g>
<clipPath id="cg14"><circle cx="777.3" cy="462.8" r="15.5"/></clipPath>
<g clip-path="url(#cg14)">
<line x1="766" y1="453.5" x2="795" y2="453.5" stroke="#222" stroke-width="1.49" />
<line x1="760" y1="463.3" x2="795" y2="463.3" stroke="#222" stroke-width="1.62" />
<line x1="760" y1="466.7" x2="795" y2="466.7" stroke="#333" stroke-width="1.35" />
<line x1="760" y1="470.2" x2="795" y2="470.2" stroke="#333" stroke-width="1.35" />
<line x1="764.9" y1="453.5" x2="764.9" y2="463.3" stroke="#222" stroke-width="1.35" />
<path d="M761,452 L765.4,453.5 L765.4,465 L761,466 Z" fill="#444"/>
</g>
<line x1="819.8" y1="447" x2="819.8" y2="478" stroke="#1e1e1e" stroke-width="1.35" />
<line x1="805.51" y1="470" x2="834.09" y2="470" stroke="#1e1e1e" stroke-width="1.35" />
<line x1="817.5" y1="470" x2="817.5" y2="478" stroke="#1e1e1e" stroke-width="1.08" />
<clipPath id="ovc"><path d="M858.4,456.2 L905.4,456.2 A14.25,14.25 0 0 1 905.4,484.7 L858.4,484.7 A14.25,14.25 0 0 1 858.4,456.2 Z"/></clipPath><g clip-path="url(#ovc)">
<line x1="843" y1="469.2" x2="921" y2="469.2" stroke="#1e1e1e" stroke-width="1.35" />
<line x1="843" y1="471.6" x2="921" y2="471.6" stroke="#1e1e1e" stroke-width="1.35" />
<line x1="856.5" y1="457.8" x2="908" y2="457.8" stroke="#444" stroke-width="1.22" />
<line x1="845" y1="463.1" x2="876.4" y2="463.1" stroke="#222" stroke-width="1.76" />
<line x1="857" y1="467.6" x2="908" y2="467.6" stroke="#444" stroke-width="1.22" />
<rect x="846.2" y="463" width="11.4" height="5" fill="#555"/>
<line x1="853.9" y1="456" x2="853.9" y2="469" stroke="#333" stroke-width="1.22" />
<line x1="857.6" y1="456" x2="857.6" y2="469" stroke="#333" stroke-width="1.22" />
<line x1="876.4" y1="456" x2="876.4" y2="469" stroke="#333" stroke-width="1.22" />
<line x1="883.7" y1="456" x2="883.7" y2="469" stroke="#333" stroke-width="1.22" />
<line x1="909" y1="456" x2="909" y2="469" stroke="#333" stroke-width="1.22" />
<rect x="896.8" y="457.5" width="10.6" height="11" stroke="#1e1e1e" stroke-width="0.81" fill="#aaa" />
<line x1="898.5" y1="457.5" x2="898.5" y2="468.5" stroke="#333" stroke-width="0.94" />
<line x1="900.5" y1="457.5" x2="900.5" y2="468.5" stroke="#333" stroke-width="0.94" />
<line x1="902.5" y1="457.5" x2="902.5" y2="468.5" stroke="#333" stroke-width="0.94" />
<line x1="904.5" y1="457.5" x2="904.5" y2="468.5" stroke="#333" stroke-width="0.94" />
<line x1="851" y1="472" x2="852.5" y2="483" stroke="#555" stroke-width="1.08" />
<line x1="913" y1="472" x2="911" y2="483" stroke="#555" stroke-width="1.08" />
</g>
<path d="M858.4,456.2 L905.4,456.2 A14.25,14.25 0 0 1 905.4,484.7 L858.4,484.7 A14.25,14.25 0 0 1 858.4,456.2 Z" stroke="#1e1e1e" stroke-width="1.62" fill="none" />
<rect x="852.3" y="471.6" width="57.5" height="11.9" stroke="#1e1e1e" stroke-width="1.35" fill="none" />
<line x1="852.3" y1="483.2" x2="909.8" y2="483.2" stroke="#111" stroke-width="1.76" />
<rect x="665.6" y="354.2" width="33.69999999999993" height="112.19999999999999" stroke="#1e1e1e" stroke-width="1.35" fill="none" />
<line x1="670.9" y1="354.2" x2="670.9" y2="466.4" stroke="#1e1e1e" stroke-width="1.22" />
<line x1="694.1999999999999" y1="354.2" x2="694.1999999999999" y2="466.4" stroke="#1e1e1e" stroke-width="1.22" />
<line x1="670.9" y1="359" x2="694.1999999999999" y2="359" stroke="#1e1e1e" stroke-width="1.22" />
<line x1="670.9" y1="373.8" x2="694.1999999999999" y2="373.8" stroke="#1e1e1e" stroke-width="1.22" />
<line x1="670.9" y1="448" x2="694.1999999999999" y2="448" stroke="#1e1e1e" stroke-width="1.22" />
<line x1="670.9" y1="464.2" x2="694.1999999999999" y2="464.2" stroke="#1e1e1e" stroke-width="1.22" />
<line x1="672.5" y1="373.8" x2="672.5" y2="448" stroke="#666" stroke-width="0.94" />
<line x1="674.6999999999999" y1="373.8" x2="674.6999999999999" y2="448" stroke="#666" stroke-width="0.94" />
<line x1="690.4" y1="373.8" x2="690.4" y2="448" stroke="#666" stroke-width="0.94" />
<line x1="692.5999999999999" y1="373.8" x2="692.5999999999999" y2="448" stroke="#666" stroke-width="0.94" />
<path d="M671.1999999999999,392 Q678.5,411.2 671.1999999999999,430.4" stroke="#1e1e1e" stroke-width="1.22" fill="none" />
<path d="M693.9,392 Q686.5999999999999,411.2 693.9,430.4" stroke="#1e1e1e" stroke-width="1.22" fill="none" />
<path d="M671.1999999999999,373.8 L671.1999999999999,392" stroke="#444" stroke-width="1.08" fill="none" />
<rect x="660.3" y="359.8" width="5.0" height="13" stroke="#1e1e1e" stroke-width="1.22" fill="#8a8a8a" rx="1.8"/>
<line x1="661.5" y1="362.8" x2="664.0999999999999" y2="362.8" stroke="#333" stroke-width="0.81" />
<line x1="661.5" y1="366.3" x2="664.0999999999999" y2="366.3" stroke="#333" stroke-width="0.81" />
<line x1="661.5" y1="369.8" x2="664.0999999999999" y2="369.8" stroke="#333" stroke-width="0.81" />
<rect x="660.3" y="449.6" width="5.0" height="13" stroke="#1e1e1e" stroke-width="1.22" fill="#8a8a8a" rx="1.8"/>
<line x1="661.5" y1="452.6" x2="664.0999999999999" y2="452.6" stroke="#333" stroke-width="0.81" />
<line x1="661.5" y1="456.1" x2="664.0999999999999" y2="456.1" stroke="#333" stroke-width="0.81" />
<line x1="661.5" y1="459.6" x2="664.0999999999999" y2="459.6" stroke="#333" stroke-width="0.81" />
<path d="M719.1,487.2 Q707.6,484.6 692.6,484.8 Q679.6,485.2 674.6,484.4 Q668.4,483.2 668.3,475 L668.3,467.5" stroke="#0a0a0a" stroke-width="4.05" fill="none" />
<path d="M703.6,480.6 Q687.6,480.1 675.1,480.6 Q670.2,480.2 669.8,474 L669.8,467.5" stroke="#333" stroke-width="1.08" fill="none" />
<line x1="703.5" y1="438" x2="703.5" y2="453" stroke="#444" stroke-width="1.08" />
<line x1="706" y1="438" x2="706" y2="466" stroke="#555" stroke-width="1.08" />
<circle cx="707.5" cy="451.5" r="1.8" stroke="#1e1e1e" stroke-width="1.08" fill="none" />
<line x1="442.4" y1="351.2" x2="611.5" y2="351.2" stroke="#1e1e1e" stroke-width="1.35" />
<line x1="442.4" y1="491.6" x2="469" y2="491.6" stroke="#1e1e1e" stroke-width="1.35" />
<line x1="446.4" y1="351.2" x2="446.4" y2="491.6" stroke="#1e1e1e" stroke-width="1.35" />
<path d="M446.40,351.60 L448.10,358.60 L444.70,358.60 Z" fill="#1e1e1e"/>
<path d="M446.40,491.20 L444.70,484.20 L448.10,484.20 Z" fill="#1e1e1e"/>
<text transform="translate(444.2,425.2) rotate(-90) scale(0.84,1)" font-family="Liberation Sans" font-size="25" font-weight="bold" text-anchor="middle" fill="#111" stroke="#111" stroke-width="0.35">62. 90</text>
<line x1="468.8" y1="491.8" x2="468.8" y2="519.5" stroke="#1e1e1e" stroke-width="1.35" />
<line x1="611.6" y1="491.8" x2="611.6" y2="519.5" stroke="#1e1e1e" stroke-width="1.35" />
<line x1="468.8" y1="514.3" x2="611.6" y2="514.3" stroke="#1e1e1e" stroke-width="1.35" />
<path d="M469.20,514.30 L476.20,512.60 L476.20,516.00 Z" fill="#1e1e1e"/>
<path d="M611.20,514.30 L604.20,516.00 L604.20,512.60 Z" fill="#1e1e1e"/>
<text transform="translate(540.4,510.9) rotate(0) scale(0.72,1)" font-family="Liberation Sans" font-size="15.5" font-weight="bold" text-anchor="middle" fill="#111">64</text>
<line x1="469" y1="353.8" x2="611.5" y2="353.8" stroke="#1e1e1e" stroke-width="1.62" />
<line x1="469" y1="489.4" x2="611.5" y2="489.4" stroke="#1e1e1e" stroke-width="1.49" />
<line x1="469" y1="491.6" x2="611.5" y2="491.6" stroke="#1e1e1e" stroke-width="1.62" />
<line x1="470.2" y1="351.2" x2="470.2" y2="491.6" stroke="#8a8a8a" stroke-width="3.51" />
<line x1="468.8" y1="351.2" x2="468.8" y2="491.6" stroke="#1e1e1e" stroke-width="1.08" />
<line x1="610.3" y1="351.2" x2="610.3" y2="491.6" stroke="#8a8a8a" stroke-width="3.51" />
<line x1="611.7" y1="351.2" x2="611.7" y2="491.6" stroke="#1e1e1e" stroke-width="1.08" />
<line x1="480.8" y1="364" x2="480.8" y2="479" stroke="#8a8a8a" stroke-width="3.24" />
<line x1="482.2" y1="364" x2="482.2" y2="479" stroke="#1e1e1e" stroke-width="0.94" />
<line x1="599.8" y1="364" x2="599.8" y2="479" stroke="#8a8a8a" stroke-width="3.24" />
<line x1="598.4" y1="364" x2="598.4" y2="479" stroke="#1e1e1e" stroke-width="0.94" />
<line x1="481" y1="364" x2="481" y2="372" stroke="#1e1e1e" stroke-width="2.16" />
<line x1="481" y1="440" x2="481" y2="452" stroke="#1e1e1e" stroke-width="1.76" />
<line x1="600" y1="364" x2="600" y2="397" stroke="#1e1e1e" stroke-width="2.16" />
<line x1="600" y1="440" x2="600" y2="452" stroke="#1e1e1e" stroke-width="1.76" />
<line x1="469.5" y1="435.8" x2="481" y2="435.8" stroke="#1e1e1e" stroke-width="1.62" />
<line x1="599" y1="435.8" x2="611" y2="435.8" stroke="#1e1e1e" stroke-width="1.62" />
<rect x="468.6" y="351.1" width="19.3" height="13.6" fill="#151515"/>
<rect x="472" y="354.1" width="1.7" height="9.5" fill="#f0f0f0"/>
<rect x="474.5" y="352.3" width="11" height="1.6" fill="#666"/>
<path d="M474.5,362 L478,359.5 L483,359.5 L486,362 Z" fill="#555"/>
<rect x="592.4" y="351.1" width="19.7" height="13.6" rx="1.5" fill="#151515"/>
<rect x="597" y="359" width="7.7" height="4.6" fill="#f4f4f4"/>
<rect x="606.5" y="354" width="1.9" height="9.6" fill="#eee"/>
<rect x="598" y="352.3" width="8" height="1.6" fill="#666"/>
<line x1="479.3" y1="364.7" x2="479.3" y2="371.4" stroke="#111" stroke-width="3.51" />
<line x1="599.4" y1="364.7" x2="599.4" y2="377" stroke="#111" stroke-width="3.51" />
<rect x="469.2" y="478.8" width="18.3" height="12.8" stroke="#1e1e1e" stroke-width="1.35" fill="#fff" />
<rect x="477.6" y="479.3" width="9.6" height="3.2" stroke="#1e1e1e" stroke-width="1.22" fill="#fff" />
<rect x="593.1" y="478.8" width="18.2" height="12.8" stroke="#1e1e1e" stroke-width="1.35" fill="#fff" />
<rect x="469" y="489.1" width="142.6" height="2.6" fill="#8a8a8a"/>
<circle cx="540.2" cy="413.5" r="50.8" stroke="#1e1e1e" stroke-width="1.49" fill="none" />
<circle cx="540.2" cy="413.5" r="39.8" stroke="#1e1e1e" stroke-width="1.49" fill="none" />
<circle cx="540.2" cy="413.5" r="37.9" stroke="#1e1e1e" stroke-width="1.22" fill="none" />
<line x1="540.2" y1="356" x2="540.2" y2="471" stroke="#333" stroke-width="1.22" stroke-dasharray="14,3,2,3"/>
<line x1="481" y1="413.6" x2="600" y2="413.6" stroke="#333" stroke-width="1.22" stroke-dasharray="14,3,2,3"/>
<line x1="481" y1="413.6" x2="489" y2="413.6" stroke="#1e1e1e" stroke-width="2.03" />
<line x1="591" y1="413.6" x2="599" y2="413.6" stroke="#1e1e1e" stroke-width="2.03" />
<line x1="478.6" y1="432.2" x2="601.6" y2="394.3" stroke="#1e1e1e" stroke-width="1.35" />
<path d="M479.00,432.10 L486.23,428.41 L487.06,431.09 Z" fill="#1e1e1e"/>
<ellipse cx="526.8" cy="404.4" rx="6.6" ry="7.2" stroke="#222" stroke-width="1" fill="none"/>
<line x1="528.3" y1="394.8" x2="526" y2="414.5" stroke="#1e1e1e" stroke-width="1.49" />
<text transform="translate(568.2,400.3) rotate(-16.8) scale(0.9,1)" font-family="Liberation Sans" font-size="23.5" font-weight="bold" text-anchor="middle" fill="#111" stroke="#111" stroke-width="0.5">45. 60</text>
<line x1="600.3" y1="377" x2="600.3" y2="397" stroke="#1e1e1e" stroke-width="2.16" />
<path d="M614,438 L620.2,433.6 L624.2,439 L618,443.6 Z" stroke="#1e1e1e" stroke-width="1.22" fill="none" />
<line x1="611.6" y1="445.5" x2="615.2" y2="441.5" stroke="#1e1e1e" stroke-width="1.22" />
<line x1="489.7" y1="536.7" x2="650.5" y2="536.7" stroke="#1e1e1e" stroke-width="1.35" />
<line x1="646.4" y1="536.7" x2="646.4" y2="815" stroke="#1e1e1e" stroke-width="1.35" />
<path d="M646.40,537.20 L648.00,544.20 L644.80,544.20 Z" fill="#1e1e1e"/>
<path d="M646.40,814.50 L644.80,807.50 L648.00,807.50 Z" fill="#1e1e1e"/>
<line x1="442" y1="815.2" x2="651.5" y2="815.2" stroke="#b5b5b5" stroke-width="1.35" />
<text transform="translate(644.8,683.8) rotate(-90) scale(0.93,1)" font-family="Liberation Sans" font-size="16" font-weight="bold" text-anchor="middle" fill="#111" stroke="#111" stroke-width="0.35">124. 50</text>
<line x1="446.7" y1="679" x2="446.7" y2="815" stroke="#1e1e1e" stroke-width="1.35" />
<path d="M446.70,679.00 L448.30,686.00 L445.10,686.00 Z" fill="#1e1e1e"/>
<path d="M446.70,693.50 L445.10,686.50 L448.30,686.50 Z" fill="#1e1e1e"/>
<path d="M446.70,744.80 L448.30,751.80 L445.10,751.80 Z" fill="#1e1e1e"/>
<path d="M446.70,814.50 L445.10,807.50 L448.30,807.50 Z" fill="#1e1e1e"/>
<line x1="442" y1="693" x2="509" y2="693" stroke="#555" stroke-width="1.35" />
<line x1="442" y1="744.2" x2="509" y2="744.2" stroke="#1e1e1e" stroke-width="1.62" />
<text transform="translate(444.8,719) rotate(-90) scale(0.92,1)" font-family="Liberation Sans" font-size="16" font-weight="bold" text-anchor="middle" fill="#111" stroke="#111" stroke-width="0.35">22. 50</text>
<text transform="translate(444.8,782) rotate(-90) scale(0.92,1)" font-family="Liberation Sans" font-size="16" font-weight="bold" text-anchor="middle" fill="#111" stroke="#111" stroke-width="0.35">32. 10</text>
<line x1="509" y1="744" x2="509" y2="841" stroke="#1e1e1e" stroke-width="1.35" />
<line x1="571.4" y1="744" x2="571.4" y2="841" stroke="#1e1e1e" stroke-width="1.35" />
<line x1="509" y1="837" x2="571.4" y2="837" stroke="#1e1e1e" stroke-width="1.35" />
<path d="M509.50,837.00 L515.50,835.50 L515.50,838.50 Z" fill="#1e1e1e"/>
<path d="M571.00,837.00 L565.00,838.50 L565.00,835.50 Z" fill="#1e1e1e"/>
<text transform="translate(540.3,835.2) rotate(0) scale(0.86,1)" font-family="Liberation Sans" font-size="16.5" font-weight="bold" text-anchor="middle" fill="#111" stroke="#111" stroke-width="0.35">28</text>
<rect x="489.7" y="537" width="12" height="5.6" stroke="#1e1e1e" stroke-width="1.22" fill="#a8a8a8" rx="1"/>
<rect x="578.7" y="537" width="12" height="5.6" stroke="#1e1e1e" stroke-width="1.22" fill="#a8a8a8" rx="1"/>
<rect x="484.6" y="542.9" width="111.60000000000002" height="32.5" stroke="#1e1e1e" stroke-width="1.35" fill="none" />
<line x1="484.6" y1="548.9" x2="596.2" y2="548.9" stroke="#1e1e1e" stroke-width="1.22" />
<line x1="484.6" y1="569.4" x2="596.2" y2="569.4" stroke="#1e1e1e" stroke-width="1.22" />
<line x1="495.5" y1="542.9" x2="495.5" y2="548.9" stroke="#1e1e1e" stroke-width="1.22" />
<line x1="495.5" y1="569.4" x2="495.5" y2="575.4" stroke="#1e1e1e" stroke-width="1.22" />
<line x1="584.8" y1="542.9" x2="584.8" y2="548.9" stroke="#1e1e1e" stroke-width="1.22" />
<line x1="584.8" y1="569.4" x2="584.8" y2="575.4" stroke="#1e1e1e" stroke-width="1.22" />
<line x1="487.7" y1="548.9" x2="487.7" y2="569.4" stroke="#555" stroke-width="1.08" />
<line x1="592.6" y1="548.9" x2="592.6" y2="569.4" stroke="#555" stroke-width="1.08" />
<line x1="503.3" y1="548.9" x2="503.3" y2="569.4" stroke="#1e1e1e" stroke-width="1.49" />
<line x1="577.5" y1="548.9" x2="577.5" y2="569.4" stroke="#1e1e1e" stroke-width="1.49" />
<line x1="503.3" y1="551.3" x2="577.5" y2="551.3" stroke="#444" stroke-width="1.08" />
<line x1="503.3" y1="567.0" x2="577.5" y2="567.0" stroke="#444" stroke-width="1.08" />
<path d="M503.3,548.9 L520.8,548.9 Q540,554.5 559.5,548.9 L577.5,548.9" stroke="#1e1e1e" stroke-width="1.49" fill="none" />
<path d="M503.3,569.4 L520.8,569.4 Q540,563.8 559.5,569.4 L577.5,569.4" stroke="#1e1e1e" stroke-width="1.49" fill="none" />
<path d="M468.9,578 Q468.9,575.3 471.6,575.3 L609.2,575.3 Q611.9,575.3 611.9,578 L611.9,805.3 Q611.9,808 609.2,808 L471.6,808 Q468.9,808 468.9,805.3 Z" stroke="#1e1e1e" stroke-width="2.03" fill="none" />
<line x1="471.5" y1="577" x2="471.5" y2="806" stroke="#8a8a8a" stroke-width="2.70" />
<line x1="609.3" y1="577" x2="609.3" y2="806" stroke="#8a8a8a" stroke-width="2.70" />
<line x1="470" y1="577.5" x2="611" y2="577.5" stroke="#555" stroke-width="1.22" />
<line x1="470" y1="806" x2="611" y2="806" stroke="#555" stroke-width="1.22" />
<line x1="489.5" y1="808" x2="489.5" y2="815" stroke="#1e1e1e" stroke-width="1.22" />
<line x1="591" y1="808" x2="591" y2="815" stroke="#1e1e1e" stroke-width="1.22" />
<path d="M472,578 L487.5,578 L474,590 L472,590 Z" stroke="#1e1e1e" stroke-width="1.35" fill="#8a8a8a" />
<path d="M609,578 L593.5,578 L607,590 L609,590 Z" stroke="#1e1e1e" stroke-width="1.35" fill="#8a8a8a" />
<path d="M472,578.5 L486,578.5" stroke="#111" stroke-width="2.43" fill="none" />
<path d="M609,578.5 L595,578.5" stroke="#111" stroke-width="2.43" fill="none" />
<path d="M472,806 L486,806 L473,795 Z" stroke="#1e1e1e" stroke-width="1.08" fill="#ddd" />
<path d="M609,806 L595,806 L608,795 Z" stroke="#1e1e1e" stroke-width="1.08" fill="#555" />
<rect x="473.4" y="598.3" width="16.8" height="57.4" stroke="#1e1e1e" stroke-width="1.35" fill="none" />
<rect x="590.6" y="598.3" width="16.8" height="57.4" stroke="#1e1e1e" stroke-width="1.35" fill="none" />
<line x1="468.5" y1="598.5" x2="490.4" y2="598.5" stroke="#111" stroke-width="1.76" />
<line x1="590.6" y1="598.5" x2="612" y2="598.5" stroke="#111" stroke-width="1.76" />
<line x1="593.5" y1="599" x2="593.5" y2="655" stroke="#111" stroke-width="1.62" />
<line x1="595.5" y1="599" x2="595.5" y2="655" stroke="#888" stroke-width="1.35" />
<circle cx="480.2" cy="607.4" r="5.0" stroke="#1e1e1e" stroke-width="1.49" fill="#5a5a5a" />
<line x1="475.2" y1="607.4" x2="485.2" y2="607.4" stroke="#000" stroke-width="1.62" />
<line x1="480.2" y1="602.4" x2="480.2" y2="612.4" stroke="#000" stroke-width="1.62" />
<circle cx="480.2" cy="647" r="5.0" stroke="#1e1e1e" stroke-width="1.49" fill="#5a5a5a" />
<line x1="475.2" y1="647" x2="485.2" y2="647" stroke="#000" stroke-width="1.62" />
<line x1="480.2" y1="642" x2="480.2" y2="652" stroke="#000" stroke-width="1.62" />
<circle cx="600.5" cy="607.4" r="5.0" stroke="#1e1e1e" stroke-width="1.49" fill="#5a5a5a" />
<line x1="595.5" y1="607.4" x2="605.5" y2="607.4" stroke="#000" stroke-width="1.62" />
<line x1="600.5" y1="602.4" x2="600.5" y2="612.4" stroke="#000" stroke-width="1.62" />
<circle cx="600.5" cy="648" r="5.0" stroke="#1e1e1e" stroke-width="1.49" fill="#5a5a5a" />
<line x1="595.5" y1="648" x2="605.5" y2="648" stroke="#000" stroke-width="1.62" />
<line x1="600.5" y1="643" x2="600.5" y2="653" stroke="#000" stroke-width="1.62" />
<rect x="606.4" y="598" width="3.4" height="57.6" fill="#262626"/>
<rect x="469.6" y="625" width="3" height="30.6" fill="#262626"/>
<rect x="606.4" y="598" width="3.4" height="57.6" fill="#262626"/>
<rect x="487.8" y="599" width="1.8" height="56" fill="#1c1c1c"/>
<rect x="612" y="654.1" width="8.3" height="9.9" stroke="#1e1e1e" stroke-width="1.62" fill="none" />
<rect x="620.3" y="655" width="4.5" height="8" stroke="#1e1e1e" stroke-width="1.22" fill="none" />
<clipPath id="hc1"><circle cx="509" cy="592.3" r="11.5"/></clipPath>
<g clip-path="url(#hc1)">
<rect x="497.50" y="580.8" width="23.00" height="23.0" fill="#a2a2a2"/>
<rect x="485.75" y="580.8" width="2.3" height="23.0" fill="#f2f2f2"/>
<line x1="485.25" y1="580.8" x2="485.25" y2="603.8" stroke="#3a3a3a" stroke-width="0.9"/>
<line x1="488.55" y1="580.8" x2="488.55" y2="603.8" stroke="#555" stroke-width="0.7"/>
<rect x="491.20" y="580.8" width="2.3" height="23.0" fill="#f2f2f2"/>
<line x1="490.70" y1="580.8" x2="490.70" y2="603.8" stroke="#3a3a3a" stroke-width="0.9"/>
<line x1="494.00" y1="580.8" x2="494.00" y2="603.8" stroke="#555" stroke-width="0.7"/>
<rect x="496.65" y="580.8" width="2.3" height="23.0" fill="#f2f2f2"/>
<line x1="496.15" y1="580.8" x2="496.15" y2="603.8" stroke="#3a3a3a" stroke-width="0.9"/>
<line x1="499.45" y1="580.8" x2="499.45" y2="603.8" stroke="#555" stroke-width="0.7"/>
<rect x="502.10" y="580.8" width="2.3" height="23.0" fill="#f2f2f2"/>
<line x1="501.60" y1="580.8" x2="501.60" y2="603.8" stroke="#3a3a3a" stroke-width="0.9"/>
<line x1="504.90" y1="580.8" x2="504.90" y2="603.8" stroke="#555" stroke-width="0.7"/>
<rect x="507.55" y="580.8" width="2.3" height="23.0" fill="#f2f2f2"/>
<line x1="507.05" y1="580.8" x2="507.05" y2="603.8" stroke="#3a3a3a" stroke-width="0.9"/>
<line x1="510.35" y1="580.8" x2="510.35" y2="603.8" stroke="#555" stroke-width="0.7"/>
<rect x="513.00" y="580.8" width="2.3" height="23.0" fill="#f2f2f2"/>
<line x1="512.50" y1="580.8" x2="512.50" y2="603.8" stroke="#3a3a3a" stroke-width="0.9"/>
<line x1="515.80" y1="580.8" x2="515.80" y2="603.8" stroke="#555" stroke-width="0.7"/>
<rect x="518.45" y="580.8" width="2.3" height="23.0" fill="#f2f2f2"/>
<line x1="517.95" y1="580.8" x2="517.95" y2="603.8" stroke="#3a3a3a" stroke-width="0.9"/>
<line x1="521.25" y1="580.8" x2="521.25" y2="603.8" stroke="#555" stroke-width="0.7"/>
</g>
<circle cx="509" cy="592.3" r="11.5" stroke="#1e1e1e" stroke-width="1.49" fill="none" />
<clipPath id="hc2"><circle cx="509" cy="623.5" r="11.5"/></clipPath>
<g clip-path="url(#hc2)">
<rect x="497.50" y="612.0" width="23.00" height="23.0" fill="#a2a2a2"/>
<rect x="485.75" y="612.0" width="2.3" height="23.0" fill="#f2f2f2"/>
<line x1="485.25" y1="612.0" x2="485.25" y2="635.0" stroke="#3a3a3a" stroke-width="0.9"/>
<line x1="488.55" y1="612.0" x2="488.55" y2="635.0" stroke="#555" stroke-width="0.7"/>
<rect x="491.20" y="612.0" width="2.3" height="23.0" fill="#f2f2f2"/>
<line x1="490.70" y1="612.0" x2="490.70" y2="635.0" stroke="#3a3a3a" stroke-width="0.9"/>
<line x1="494.00" y1="612.0" x2="494.00" y2="635.0" stroke="#555" stroke-width="0.7"/>
<rect x="496.65" y="612.0" width="2.3" height="23.0" fill="#f2f2f2"/>
<line x1="496.15" y1="612.0" x2="496.15" y2="635.0" stroke="#3a3a3a" stroke-width="0.9"/>
<line x1="499.45" y1="612.0" x2="499.45" y2="635.0" stroke="#555" stroke-width="0.7"/>
<rect x="502.10" y="612.0" width="2.3" height="23.0" fill="#f2f2f2"/>
<line x1="501.60" y1="612.0" x2="501.60" y2="635.0" stroke="#3a3a3a" stroke-width="0.9"/>
<line x1="504.90" y1="612.0" x2="504.90" y2="635.0" stroke="#555" stroke-width="0.7"/>
<rect x="507.55" y="612.0" width="2.3" height="23.0" fill="#f2f2f2"/>
<line x1="507.05" y1="612.0" x2="507.05" y2="635.0" stroke="#3a3a3a" stroke-width="0.9"/>
<line x1="510.35" y1="612.0" x2="510.35" y2="635.0" stroke="#555" stroke-width="0.7"/>
<rect x="513.00" y="612.0" width="2.3" height="23.0" fill="#f2f2f2"/>
<line x1="512.50" y1="612.0" x2="512.50" y2="635.0" stroke="#3a3a3a" stroke-width="0.9"/>
<line x1="515.80" y1="612.0" x2="515.80" y2="635.0" stroke="#555" stroke-width="0.7"/>
<rect x="518.45" y="612.0" width="2.3" height="23.0" fill="#f2f2f2"/>
<line x1="517.95" y1="612.0" x2="517.95" y2="635.0" stroke="#3a3a3a" stroke-width="0.9"/>
<line x1="521.25" y1="612.0" x2="521.25" y2="635.0" stroke="#555" stroke-width="0.7"/>
</g>
<circle cx="509" cy="623.5" r="11.5" stroke="#1e1e1e" stroke-width="1.49" fill="none" />
<clipPath id="hc3"><circle cx="509" cy="654.9" r="11.5"/></clipPath>
<g clip-path="url(#hc3)">
<rect x="497.50" y="643.4" width="23.00" height="23.0" fill="#a2a2a2"/>
<rect x="485.75" y="643.4" width="2.3" height="23.0" fill="#f2f2f2"/>
<line x1="485.25" y1="643.4" x2="485.25" y2="666.4" stroke="#3a3a3a" stroke-width="0.9"/>
<line x1="488.55" y1="643.4" x2="488.55" y2="666.4" stroke="#555" stroke-width="0.7"/>
<rect x="491.20" y="643.4" width="2.3" height="23.0" fill="#f2f2f2"/>
<line x1="490.70" y1="643.4" x2="490.70" y2="666.4" stroke="#3a3a3a" stroke-width="0.9"/>
<line x1="494.00" y1="643.4" x2="494.00" y2="666.4" stroke="#555" stroke-width="0.7"/>
<rect x="496.65" y="643.4" width="2.3" height="23.0" fill="#f2f2f2"/>
<line x1="496.15" y1="643.4" x2="496.15" y2="666.4" stroke="#3a3a3a" stroke-width="0.9"/>
<line x1="499.45" y1="643.4" x2="499.45" y2="666.4" stroke="#555" stroke-width="0.7"/>
<rect x="502.10" y="643.4" width="2.3" height="23.0" fill="#f2f2f2"/>
<line x1="501.60" y1="643.4" x2="501.60" y2="666.4" stroke="#3a3a3a" stroke-width="0.9"/>
<line x1="504.90" y1="643.4" x2="504.90" y2="666.4" stroke="#555" stroke-width="0.7"/>
<rect x="507.55" y="643.4" width="2.3" height="23.0" fill="#f2f2f2"/>
<line x1="507.05" y1="643.4" x2="507.05" y2="666.4" stroke="#3a3a3a" stroke-width="0.9"/>
<line x1="510.35" y1="643.4" x2="510.35" y2="666.4" stroke="#555" stroke-width="0.7"/>
<rect x="513.00" y="643.4" width="2.3" height="23.0" fill="#f2f2f2"/>
<line x1="512.50" y1="643.4" x2="512.50" y2="666.4" stroke="#3a3a3a" stroke-width="0.9"/>
<line x1="515.80" y1="643.4" x2="515.80" y2="666.4" stroke="#555" stroke-width="0.7"/>
<rect x="518.45" y="643.4" width="2.3" height="23.0" fill="#f2f2f2"/>
<line x1="517.95" y1="643.4" x2="517.95" y2="666.4" stroke="#3a3a3a" stroke-width="0.9"/>
<line x1="521.25" y1="643.4" x2="521.25" y2="666.4" stroke="#555" stroke-width="0.7"/>
</g>
<circle cx="509" cy="654.9" r="11.5" stroke="#1e1e1e" stroke-width="1.49" fill="none" />
<clipPath id="hc4"><circle cx="571.4" cy="592.3" r="11.5"/></clipPath>
<g clip-path="url(#hc4)">
<rect x="559.90" y="580.8" width="23.00" height="23.0" fill="#a2a2a2"/>
<rect x="548.15" y="580.8" width="2.3" height="23.0" fill="#f2f2f2"/>
<line x1="547.65" y1="580.8" x2="547.65" y2="603.8" stroke="#3a3a3a" stroke-width="0.9"/>
<line x1="550.95" y1="580.8" x2="550.95" y2="603.8" stroke="#555" stroke-width="0.7"/>
<rect x="553.60" y="580.8" width="2.3" height="23.0" fill="#f2f2f2"/>
<line x1="553.10" y1="580.8" x2="553.10" y2="603.8" stroke="#3a3a3a" stroke-width="0.9"/>
<line x1="556.40" y1="580.8" x2="556.40" y2="603.8" stroke="#555" stroke-width="0.7"/>
<rect x="559.05" y="580.8" width="2.3" height="23.0" fill="#f2f2f2"/>
<line x1="558.55" y1="580.8" x2="558.55" y2="603.8" stroke="#3a3a3a" stroke-width="0.9"/>
<line x1="561.85" y1="580.8" x2="561.85" y2="603.8" stroke="#555" stroke-width="0.7"/>
<rect x="564.50" y="580.8" width="2.3" height="23.0" fill="#f2f2f2"/>
<line x1="564.00" y1="580.8" x2="564.00" y2="603.8" stroke="#3a3a3a" stroke-width="0.9"/>
<line x1="567.30" y1="580.8" x2="567.30" y2="603.8" stroke="#555" stroke-width="0.7"/>
<rect x="569.95" y="580.8" width="2.3" height="23.0" fill="#f2f2f2"/>
<line x1="569.45" y1="580.8" x2="569.45" y2="603.8" stroke="#3a3a3a" stroke-width="0.9"/>
<line x1="572.75" y1="580.8" x2="572.75" y2="603.8" stroke="#555" stroke-width="0.7"/>
<rect x="575.40" y="580.8" width="2.3" height="23.0" fill="#f2f2f2"/>
<line x1="574.90" y1="580.8" x2="574.90" y2="603.8" stroke="#3a3a3a" stroke-width="0.9"/>
<line x1="578.20" y1="580.8" x2="578.20" y2="603.8" stroke="#555" stroke-width="0.7"/>
<rect x="580.85" y="580.8" width="2.3" height="23.0" fill="#f2f2f2"/>
<line x1="580.35" y1="580.8" x2="580.35" y2="603.8" stroke="#3a3a3a" stroke-width="0.9"/>
<line x1="583.65" y1="580.8" x2="583.65" y2="603.8" stroke="#555" stroke-width="0.7"/>
</g>
<circle cx="571.4" cy="592.3" r="11.5" stroke="#1e1e1e" stroke-width="1.49" fill="none" />
<clipPath id="hc5"><circle cx="571.4" cy="623.5" r="11.5"/></clipPath>
<g clip-path="url(#hc5)">
<rect x="559.90" y="612.0" width="23.00" height="23.0" fill="#a2a2a2"/>
<rect x="548.15" y="612.0" width="2.3" height="23.0" fill="#f2f2f2"/>
<line x1="547.65" y1="612.0" x2="547.65" y2="635.0" stroke="#3a3a3a" stroke-width="0.9"/>
<line x1="550.95" y1="612.0" x2="550.95" y2="635.0" stroke="#555" stroke-width="0.7"/>
<rect x="553.60" y="612.0" width="2.3" height="23.0" fill="#f2f2f2"/>
<line x1="553.10" y1="612.0" x2="553.10" y2="635.0" stroke="#3a3a3a" stroke-width="0.9"/>
<line x1="556.40" y1="612.0" x2="556.40" y2="635.0" stroke="#555" stroke-width="0.7"/>
<rect x="559.05" y="612.0" width="2.3" height="23.0" fill="#f2f2f2"/>
<line x1="558.55" y1="612.0" x2="558.55" y2="635.0" stroke="#3a3a3a" stroke-width="0.9"/>
<line x1="561.85" y1="612.0" x2="561.85" y2="635.0" stroke="#555" stroke-width="0.7"/>
<rect x="564.50" y="612.0" width="2.3" height="23.0" fill="#f2f2f2"/>
<line x1="564.00" y1="612.0" x2="564.00" y2="635.0" stroke="#3a3a3a" stroke-width="0.9"/>
<line x1="567.30" y1="612.0" x2="567.30" y2="635.0" stroke="#555" stroke-width="0.7"/>
<rect x="569.95" y="612.0" width="2.3" height="23.0" fill="#f2f2f2"/>
<line x1="569.45" y1="612.0" x2="569.45" y2="635.0" stroke="#3a3a3a" stroke-width="0.9"/>
<line x1="572.75" y1="612.0" x2="572.75" y2="635.0" stroke="#555" stroke-width="0.7"/>
<rect x="575.40" y="612.0" width="2.3" height="23.0" fill="#f2f2f2"/>
<line x1="574.90" y1="612.0" x2="574.90" y2="635.0" stroke="#3a3a3a" stroke-width="0.9"/>
<line x1="578.20" y1="612.0" x2="578.20" y2="635.0" stroke="#555" stroke-width="0.7"/>
<rect x="580.85" y="612.0" width="2.3" height="23.0" fill="#f2f2f2"/>
<line x1="580.35" y1="612.0" x2="580.35" y2="635.0" stroke="#3a3a3a" stroke-width="0.9"/>
<line x1="583.65" y1="612.0" x2="583.65" y2="635.0" stroke="#555" stroke-width="0.7"/>
</g>
<circle cx="571.4" cy="623.5" r="11.5" stroke="#1e1e1e" stroke-width="1.49" fill="none" />
<clipPath id="hc6"><circle cx="571.4" cy="654.9" r="11.5"/></clipPath>
<g clip-path="url(#hc6)">
<rect x="559.90" y="643.4" width="23.00" height="23.0" fill="#a2a2a2"/>
<rect x="548.15" y="643.4" width="2.3" height="23.0" fill="#f2f2f2"/>
<line x1="547.65" y1="643.4" x2="547.65" y2="666.4" stroke="#3a3a3a" stroke-width="0.9"/>
<line x1="550.95" y1="643.4" x2="550.95" y2="666.4" stroke="#555" stroke-width="0.7"/>
<rect x="553.60" y="643.4" width="2.3" height="23.0" fill="#f2f2f2"/>
<line x1="553.10" y1="643.4" x2="553.10" y2="666.4" stroke="#3a3a3a" stroke-width="0.9"/>
<line x1="556.40" y1="643.4" x2="556.40" y2="666.4" stroke="#555" stroke-width="0.7"/>
<rect x="559.05" y="643.4" width="2.3" height="23.0" fill="#f2f2f2"/>
<line x1="558.55" y1="643.4" x2="558.55" y2="666.4" stroke="#3a3a3a" stroke-width="0.9"/>
<line x1="561.85" y1="643.4" x2="561.85" y2="666.4" stroke="#555" stroke-width="0.7"/>
<rect x="564.50" y="643.4" width="2.3" height="23.0" fill="#f2f2f2"/>
<line x1="564.00" y1="643.4" x2="564.00" y2="666.4" stroke="#3a3a3a" stroke-width="0.9"/>
<line x1="567.30" y1="643.4" x2="567.30" y2="666.4" stroke="#555" stroke-width="0.7"/>
<rect x="569.95" y="643.4" width="2.3" height="23.0" fill="#f2f2f2"/>
<line x1="569.45" y1="643.4" x2="569.45" y2="666.4" stroke="#3a3a3a" stroke-width="0.9"/>
<line x1="572.75" y1="643.4" x2="572.75" y2="666.4" stroke="#555" stroke-width="0.7"/>
<rect x="575.40" y="643.4" width="2.3" height="23.0" fill="#f2f2f2"/>
<line x1="574.90" y1="643.4" x2="574.90" y2="666.4" stroke="#3a3a3a" stroke-width="0.9"/>
<line x1="578.20" y1="643.4" x2="578.20" y2="666.4" stroke="#555" stroke-width="0.7"/>
<rect x="580.85" y="643.4" width="2.3" height="23.0" fill="#f2f2f2"/>
<line x1="580.35" y1="643.4" x2="580.35" y2="666.4" stroke="#3a3a3a" stroke-width="0.9"/>
<line x1="583.65" y1="643.4" x2="583.65" y2="666.4" stroke="#555" stroke-width="0.7"/>
</g>
<circle cx="571.4" cy="654.9" r="11.5" stroke="#1e1e1e" stroke-width="1.49" fill="none" />
<clipPath id="hc7"><circle cx="540.1" cy="605.2" r="13.6"/></clipPath>
<g clip-path="url(#hc7)">
<rect x="526.50" y="591.6" width="27.20" height="27.2" fill="#a2a2a2"/>
<rect x="518.15" y="591.6" width="2.3" height="27.2" fill="#f2f2f2"/>
<line x1="517.65" y1="591.6" x2="517.65" y2="618.8000000000001" stroke="#3a3a3a" stroke-width="0.9"/>
<line x1="520.95" y1="591.6" x2="520.95" y2="618.8000000000001" stroke="#555" stroke-width="0.7"/>
<rect x="523.50" y="591.6" width="2.3" height="27.2" fill="#f2f2f2"/>
<line x1="523.00" y1="591.6" x2="523.00" y2="618.8000000000001" stroke="#3a3a3a" stroke-width="0.9"/>
<line x1="526.30" y1="591.6" x2="526.30" y2="618.8000000000001" stroke="#555" stroke-width="0.7"/>
<rect x="528.85" y="591.6" width="2.3" height="27.2" fill="#f2f2f2"/>
<line x1="528.35" y1="591.6" x2="528.35" y2="618.8000000000001" stroke="#3a3a3a" stroke-width="0.9"/>
<line x1="531.65" y1="591.6" x2="531.65" y2="618.8000000000001" stroke="#555" stroke-width="0.7"/>
<rect x="534.20" y="591.6" width="2.3" height="27.2" fill="#f2f2f2"/>
<line x1="533.70" y1="591.6" x2="533.70" y2="618.8000000000001" stroke="#3a3a3a" stroke-width="0.9"/>
<line x1="537.00" y1="591.6" x2="537.00" y2="618.8000000000001" stroke="#555" stroke-width="0.7"/>
<rect x="539.55" y="591.6" width="2.3" height="27.2" fill="#f2f2f2"/>
<line x1="539.05" y1="591.6" x2="539.05" y2="618.8000000000001" stroke="#3a3a3a" stroke-width="0.9"/>
<line x1="542.35" y1="591.6" x2="542.35" y2="618.8000000000001" stroke="#555" stroke-width="0.7"/>
<rect x="544.90" y="591.6" width="2.3" height="27.2" fill="#f2f2f2"/>
<line x1="544.40" y1="591.6" x2="544.40" y2="618.8000000000001" stroke="#3a3a3a" stroke-width="0.9"/>
<line x1="547.70" y1="591.6" x2="547.70" y2="618.8000000000001" stroke="#555" stroke-width="0.7"/>
<rect x="550.25" y="591.6" width="2.3" height="27.2" fill="#f2f2f2"/>
<line x1="549.75" y1="591.6" x2="549.75" y2="618.8000000000001" stroke="#3a3a3a" stroke-width="0.9"/>
<line x1="553.05" y1="591.6" x2="553.05" y2="618.8000000000001" stroke="#555" stroke-width="0.7"/>
</g>
<circle cx="540.1" cy="605.2" r="13.6" stroke="#1e1e1e" stroke-width="1.49" fill="none" />
<clipPath id="hc8"><circle cx="540.1" cy="644.2" r="13.6"/></clipPath>
<g clip-path="url(#hc8)">
<rect x="526.50" y="630.6" width="27.20" height="27.2" fill="#a2a2a2"/>
<rect x="518.15" y="630.6" width="2.3" height="27.2" fill="#f2f2f2"/>
<line x1="517.65" y1="630.6" x2="517.65" y2="657.8000000000001" stroke="#3a3a3a" stroke-width="0.9"/>
<line x1="520.95" y1="630.6" x2="520.95" y2="657.8000000000001" stroke="#555" stroke-width="0.7"/>
<rect x="523.50" y="630.6" width="2.3" height="27.2" fill="#f2f2f2"/>
<line x1="523.00" y1="630.6" x2="523.00" y2="657.8000000000001" stroke="#3a3a3a" stroke-width="0.9"/>
<line x1="526.30" y1="630.6" x2="526.30" y2="657.8000000000001" stroke="#555" stroke-width="0.7"/>
<rect x="528.85" y="630.6" width="2.3" height="27.2" fill="#f2f2f2"/>
<line x1="528.35" y1="630.6" x2="528.35" y2="657.8000000000001" stroke="#3a3a3a" stroke-width="0.9"/>
<line x1="531.65" y1="630.6" x2="531.65" y2="657.8000000000001" stroke="#555" stroke-width="0.7"/>
<rect x="534.20" y="630.6" width="2.3" height="27.2" fill="#f2f2f2"/>
<line x1="533.70" y1="630.6" x2="533.70" y2="657.8000000000001" stroke="#3a3a3a" stroke-width="0.9"/>
<line x1="537.00" y1="630.6" x2="537.00" y2="657.8000000000001" stroke="#555" stroke-width="0.7"/>
<rect x="539.55" y="630.6" width="2.3" height="27.2" fill="#f2f2f2"/>
<line x1="539.05" y1="630.6" x2="539.05" y2="657.8000000000001" stroke="#3a3a3a" stroke-width="0.9"/>
<line x1="542.35" y1="630.6" x2="542.35" y2="657.8000000000001" stroke="#555" stroke-width="0.7"/>
<rect x="544.90" y="630.6" width="2.3" height="27.2" fill="#f2f2f2"/>
<line x1="544.40" y1="630.6" x2="544.40" y2="657.8000000000001" stroke="#3a3a3a" stroke-width="0.9"/>
<line x1="547.70" y1="630.6" x2="547.70" y2="657.8000000000001" stroke="#555" stroke-width="0.7"/>
<rect x="550.25" y="630.6" width="2.3" height="27.2" fill="#f2f2f2"/>
<line x1="549.75" y1="630.6" x2="549.75" y2="657.8000000000001" stroke="#3a3a3a" stroke-width="0.9"/>
<line x1="553.05" y1="630.6" x2="553.05" y2="657.8000000000001" stroke="#555" stroke-width="0.7"/>
</g>
<circle cx="540.1" cy="644.2" r="13.6" stroke="#1e1e1e" stroke-width="1.49" fill="none" />
<clipPath id="hc9"><circle cx="540.1" cy="680.1" r="13.6"/></clipPath>
<g clip-path="url(#hc9)">
<clipPath id="hc9y"><rect x="526.5" y="666.5" width="27.2" height="20.100000000000023"/></clipPath><g clip-path="url(#hc9y)">
<rect x="526.50" y="666.5" width="27.20" height="27.2" fill="#a2a2a2"/>
<rect x="518.15" y="666.5" width="2.3" height="27.2" fill="#f2f2f2"/>
<line x1="517.65" y1="666.5" x2="517.65" y2="693.7" stroke="#3a3a3a" stroke-width="0.9"/>
<line x1="520.95" y1="666.5" x2="520.95" y2="693.7" stroke="#555" stroke-width="0.7"/>
<rect x="523.50" y="666.5" width="2.3" height="27.2" fill="#f2f2f2"/>
<line x1="523.00" y1="666.5" x2="523.00" y2="693.7" stroke="#3a3a3a" stroke-width="0.9"/>
<line x1="526.30" y1="666.5" x2="526.30" y2="693.7" stroke="#555" stroke-width="0.7"/>
<rect x="528.85" y="666.5" width="2.3" height="27.2" fill="#f2f2f2"/>
<line x1="528.35" y1="666.5" x2="528.35" y2="693.7" stroke="#3a3a3a" stroke-width="0.9"/>
<line x1="531.65" y1="666.5" x2="531.65" y2="693.7" stroke="#555" stroke-width="0.7"/>
<rect x="534.20" y="666.5" width="2.3" height="27.2" fill="#f2f2f2"/>
<line x1="533.70" y1="666.5" x2="533.70" y2="693.7" stroke="#3a3a3a" stroke-width="0.9"/>
<line x1="537.00" y1="666.5" x2="537.00" y2="693.7" stroke="#555" stroke-width="0.7"/>
<rect x="539.55" y="666.5" width="2.3" height="27.2" fill="#f2f2f2"/>
<line x1="539.05" y1="666.5" x2="539.05" y2="693.7" stroke="#3a3a3a" stroke-width="0.9"/>
<line x1="542.35" y1="666.5" x2="542.35" y2="693.7" stroke="#555" stroke-width="0.7"/>
<rect x="544.90" y="666.5" width="2.3" height="27.2" fill="#f2f2f2"/>
<line x1="544.40" y1="666.5" x2="544.40" y2="693.7" stroke="#3a3a3a" stroke-width="0.9"/>
<line x1="547.70" y1="666.5" x2="547.70" y2="693.7" stroke="#555" stroke-width="0.7"/>
<rect x="550.25" y="666.5" width="2.3" height="27.2" fill="#f2f2f2"/>
<line x1="549.75" y1="666.5" x2="549.75" y2="693.7" stroke="#3a3a3a" stroke-width="0.9"/>
<line x1="553.05" y1="666.5" x2="553.05" y2="693.7" stroke="#555" stroke-width="0.7"/>
</g>
</g>
<circle cx="540.1" cy="680.1" r="13.6" stroke="#1e1e1e" stroke-width="1.49" fill="none" />
<clipPath id="hcp"><circle cx="489.3" cy="675.9" r="11.3"/></clipPath><g clip-path="url(#hcp)">
<rect x="484.6" y="664" width="13.8" height="24" fill="#7a7a7a"/>
<rect x="486.4" y="664" width="2" height="24" fill="#f4f4f4"/>
<rect x="492.2" y="664" width="2" height="24" fill="#f4f4f4"/>
<rect x="495.8" y="664" width="2.6" height="24" fill="#9a9a9a"/>
<line x1="485.2" y1="664" x2="485.2" y2="688" stroke="#222" stroke-width="1.2"/>
<line x1="494.8" y1="664" x2="494.8" y2="688" stroke="#222" stroke-width="1.2"/>
<rect x="485" y="685.2" width="8" height="3" fill="#111"/>
</g>
<circle cx="489.3" cy="675.9" r="11.3" stroke="#1e1e1e" stroke-width="1.49" fill="none" />
<circle cx="540.1" cy="716.7" r="13.6" stroke="#1e1e1e" stroke-width="1.49" fill="none" />
<circle cx="540.1" cy="752.6" r="13.6" stroke="#1e1e1e" stroke-width="1.49" fill="none" />
<circle cx="540.1" cy="788.3" r="13.6" stroke="#1e1e1e" stroke-width="1.49" fill="none" />
<circle cx="489.4" cy="712" r="11.4" stroke="#1e1e1e" stroke-width="1.49" fill="none" />
<circle cx="489.4" cy="748.2" r="11.4" stroke="#1e1e1e" stroke-width="1.49" fill="none" />
<circle cx="489.4" cy="783.8" r="11.4" stroke="#1e1e1e" stroke-width="1.49" fill="none" />
<circle cx="591.4" cy="675.7" r="11.4" stroke="#1e1e1e" stroke-width="1.49" fill="none" />
<circle cx="591.4" cy="712" r="11.4" stroke="#1e1e1e" stroke-width="1.49" fill="none" />
<circle cx="591.4" cy="748.2" r="11.4" stroke="#1e1e1e" stroke-width="1.49" fill="none" />
<circle cx="591.4" cy="783.8" r="11.4" stroke="#1e1e1e" stroke-width="1.49" fill="none" />
<rect x="536.8" y="726.5" width="6.5" height="4.5" stroke="#1e1e1e" stroke-width="1.22" fill="none" />
<clipPath id="cg15"><circle cx="591.4" cy="675.7" r="11.0"/></clipPath>
<g clip-path="url(#cg15)">
<rect x="583" y="665.5" width="17" height="2.7" fill="#1a1a1a"/>
<rect x="580" y="669.3" width="23" height="1.8" fill="#8a8a8a"/>
<line x1="580" y1="672.2" x2="603" y2="672.2" stroke="#111" stroke-width="1.49" />
<rect x="594.8" y="667" width="8" height="10" fill="#555"/>
<line x1="596.5" y1="667" x2="596.5" y2="677" stroke="#222" stroke-width="0.94" />
<line x1="598.5" y1="667" x2="598.5" y2="677" stroke="#222" stroke-width="0.94" />
<line x1="600.5" y1="667" x2="600.5" y2="677" stroke="#222" stroke-width="0.94" />
<line x1="585.9" y1="672.6" x2="585.9" y2="676.3" stroke="#333" stroke-width="1.22" />
<line x1="580" y1="677.8" x2="603" y2="677.8" stroke="#111" stroke-width="2.16" />
</g>
<clipPath id="cg16"><circle cx="591.4" cy="712" r="11.0"/></clipPath>
<g clip-path="url(#cg16)">
<path d="M589.6,724 L589.6,708.5 Q589.6,706 592.9,706 Q596.2,706 596.2,708.5 L596.2,724" stroke="#111" stroke-width="1.49" fill="none" />
<ellipse cx="583.4" cy="712.2" rx="3.2" ry="6.6" fill="#111"/>
<ellipse cx="601" cy="714.2" rx="2.4" ry="3.8" fill="#111"/>
<rect x="588.8" y="700.3" width="6" height="1.7" fill="#111"/>
</g>
<line x1="589" y1="737" x2="589" y2="759" stroke="#1e1e1e" stroke-width="1.35" />
<line x1="593.5" y1="737" x2="593.5" y2="759" stroke="#1e1e1e" stroke-width="1.35" />
<circle cx="600" cy="749" r="1.5" stroke="#1e1e1e" stroke-width="0.68" fill="#222" />
<line x1="589" y1="772.5" x2="589" y2="795" stroke="#1e1e1e" stroke-width="1.35" />
<line x1="593.5" y1="772.5" x2="593.5" y2="795" stroke="#1e1e1e" stroke-width="1.35" />
<circle cx="582.5" cy="787" r="2.3" stroke="#1e1e1e" stroke-width="0.68" fill="#111" />
<circle cx="600.5" cy="788" r="2.3" stroke="#1e1e1e" stroke-width="0.68" fill="#111" />
<line x1="527.5" y1="686.8" x2="552.7" y2="686.8" stroke="#111" stroke-width="2.16" />
<circle cx="532" cy="686.8" r="1.1" stroke="#1e1e1e" stroke-width="0.54" fill="#111" />
<circle cx="537.5" cy="686.8" r="1.1" stroke="#1e1e1e" stroke-width="0.54" fill="#111" />
<circle cx="542.5" cy="686.8" r="1.1" stroke="#1e1e1e" stroke-width="0.54" fill="#111" />
<circle cx="548" cy="686.8" r="1.1" stroke="#1e1e1e" stroke-width="0.54" fill="#111" />
<line x1="536" y1="687" x2="536" y2="692" stroke="#333" stroke-width="1.22" />
<line x1="546" y1="687" x2="543" y2="692" stroke="#555" stroke-width="1.08" />
<circle cx="509" cy="693" r="3.6" stroke="#1e1e1e" stroke-width="1.35" fill="#6a6a6a" />
<path d="M503.5,693 L509,687.5 L514.5,693 L509,698.5 Z" stroke="#555" stroke-width="0.81" fill="none" />
<line x1="509" y1="687" x2="509" y2="699" stroke="#1e1e1e" stroke-width="1.08" />
<line x1="503" y1="693" x2="515" y2="693" stroke="#1e1e1e" stroke-width="1.08" />
<circle cx="571.4" cy="693" r="3.6" stroke="#1e1e1e" stroke-width="1.35" fill="#6a6a6a" />
<path d="M565.9,693 L571.4,687.5 L576.9,693 L571.4,698.5 Z" stroke="#555" stroke-width="0.81" fill="none" />
<line x1="571.4" y1="687" x2="571.4" y2="699" stroke="#1e1e1e" stroke-width="1.08" />
<line x1="565.4" y1="693" x2="577.4" y2="693" stroke="#1e1e1e" stroke-width="1.08" />
<circle cx="509" cy="744.2" r="3.6" stroke="#1e1e1e" stroke-width="1.35" fill="#6a6a6a" />
<path d="M503.5,744.2 L509,738.7 L514.5,744.2 L509,749.7 Z" stroke="#555" stroke-width="0.81" fill="none" />
<line x1="509" y1="738.2" x2="509" y2="750.2" stroke="#1e1e1e" stroke-width="1.08" />
<line x1="503" y1="744.2" x2="515" y2="744.2" stroke="#1e1e1e" stroke-width="1.08" />
<circle cx="571.4" cy="744.2" r="3.6" stroke="#1e1e1e" stroke-width="1.35" fill="#6a6a6a" />
<path d="M565.9,744.2 L571.4,738.7 L576.9,744.2 L571.4,749.7 Z" stroke="#555" stroke-width="0.81" fill="none" />
<line x1="571.4" y1="738.2" x2="571.4" y2="750.2" stroke="#1e1e1e" stroke-width="1.08" />
<line x1="565.4" y1="744.2" x2="577.4" y2="744.2" stroke="#1e1e1e" stroke-width="1.08" />
<circle cx="513.7" cy="758.3" r="2.8" stroke="#1e1e1e" stroke-width="1.62" fill="none" />
<circle cx="567.2" cy="758.3" r="2.8" stroke="#1e1e1e" stroke-width="1.62" fill="none" />
<circle cx="513.7" cy="779.8" r="6.0" stroke="#555" stroke-width="1.22" fill="#8a8a8a" />
<polygon points="518.70,779.80 516.20,783.52 511.20,783.52 508.70,779.80 511.20,776.08 516.20,776.08" fill="#080808" stroke="#111" stroke-width="0.8"/>
<line x1="506.20000000000005" y1="779.8" x2="521.2" y2="779.8" stroke="#222" stroke-width="0.68" />
<circle cx="567.2" cy="779.8" r="6.0" stroke="#555" stroke-width="1.22" fill="#8a8a8a" />
<polygon points="572.20,779.80 569.70,783.52 564.70,783.52 562.20,779.80 564.70,776.08 569.70,776.08" fill="#080808" stroke="#111" stroke-width="0.8"/>
<line x1="559.7" y1="779.8" x2="574.7" y2="779.8" stroke="#222" stroke-width="0.68" />
<text transform="translate(832.9,986.7) scale(1.06,1)" font-family="Liberation Sans" font-size="23.4" fill="#111">Unit</text>
<text transform="translate(878.2,986.7)" font-family="Liberation Sans" font-size="23.4" fill="#111">:</text>
<text transform="translate(893.0,986.7) scale(1.1,1)" font-family="Liberation Sans" font-size="23.4" fill="#111">mm</text>
</svg>
</body></html>
